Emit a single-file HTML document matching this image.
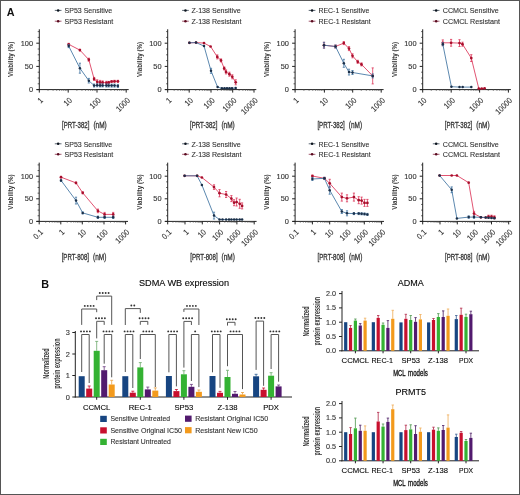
<!DOCTYPE html>
<html><head><meta charset="utf-8"><style>
html,body{margin:0;padding:0;background:#fff;}
svg{display:block;will-change:transform;}
text{font-family:"Liberation Sans", sans-serif;}
</style></head><body>
<svg width="520" height="495" viewBox="0 0 520 495">
<rect x="0.5" y="0.5" width="519" height="494" fill="#fff" stroke="#555" stroke-width="1"/>
<text x="6.7" y="15.8" font-size="10.8" font-weight="bold" fill="#111">A</text>
<text x="41.2" y="287.8" font-size="10.8" font-weight="bold" fill="#111">B</text>
<line x1="39.3" y1="29.28" x2="39.3" y2="90.1" stroke="#222" stroke-width="1"/>
<line x1="36.3" y1="89.6" x2="39.3" y2="89.6" stroke="#222" stroke-width="1"/>
<line x1="37.7" y1="83.8" x2="39.3" y2="83.8" stroke="#222" stroke-width="0.7"/>
<line x1="37.7" y1="78" x2="39.3" y2="78" stroke="#222" stroke-width="0.7"/>
<line x1="37.7" y1="72.2" x2="39.3" y2="72.2" stroke="#222" stroke-width="0.7"/>
<line x1="36.3" y1="66.4" x2="39.3" y2="66.4" stroke="#222" stroke-width="1"/>
<line x1="37.7" y1="60.6" x2="39.3" y2="60.6" stroke="#222" stroke-width="0.7"/>
<line x1="37.7" y1="54.8" x2="39.3" y2="54.8" stroke="#222" stroke-width="0.7"/>
<line x1="37.7" y1="49" x2="39.3" y2="49" stroke="#222" stroke-width="0.7"/>
<line x1="36.3" y1="43.2" x2="39.3" y2="43.2" stroke="#222" stroke-width="1"/>
<line x1="37.7" y1="37.4" x2="39.3" y2="37.4" stroke="#222" stroke-width="0.7"/>
<line x1="37.7" y1="31.6" x2="39.3" y2="31.6" stroke="#222" stroke-width="0.7"/>
<text x="33.1" y="92.1" font-size="7.4" stroke="#333" stroke-width="0.12" text-anchor="end" fill="#333">0</text>
<text x="33.1" y="68.9" font-size="7.4" stroke="#333" stroke-width="0.12" text-anchor="end" fill="#333">50</text>
<text x="33.1" y="45.7" font-size="7.4" stroke="#333" stroke-width="0.12" text-anchor="end" fill="#333">100</text>
<line x1="36.8" y1="89.6" x2="128.7" y2="89.6" stroke="#222" stroke-width="1"/>
<line x1="39.3" y1="89.6" x2="39.3" y2="92.6" stroke="#222" stroke-width="1"/>
<text x="43.6" y="100.9" font-size="8.1" stroke="#333" stroke-width="0.12" text-anchor="end" fill="#333" textLength="3.99" lengthAdjust="spacingAndGlyphs" transform="rotate(-45 43.6 100.9)">1</text>
<line x1="48" y1="89.6" x2="48" y2="91" stroke="#555" stroke-width="0.6"/>
<line x1="53.09" y1="89.6" x2="53.09" y2="91" stroke="#555" stroke-width="0.6"/>
<line x1="56.7" y1="89.6" x2="56.7" y2="91" stroke="#555" stroke-width="0.6"/>
<line x1="59.5" y1="89.6" x2="59.5" y2="91" stroke="#555" stroke-width="0.6"/>
<line x1="61.79" y1="89.6" x2="61.79" y2="91" stroke="#555" stroke-width="0.6"/>
<line x1="63.72" y1="89.6" x2="63.72" y2="91" stroke="#555" stroke-width="0.6"/>
<line x1="65.4" y1="89.6" x2="65.4" y2="91" stroke="#555" stroke-width="0.6"/>
<line x1="66.88" y1="89.6" x2="66.88" y2="91" stroke="#555" stroke-width="0.6"/>
<line x1="68.2" y1="89.6" x2="68.2" y2="92.6" stroke="#222" stroke-width="1"/>
<text x="72.5" y="100.9" font-size="8.1" stroke="#333" stroke-width="0.12" text-anchor="end" fill="#333" textLength="7.98" lengthAdjust="spacingAndGlyphs" transform="rotate(-45 72.5 100.9)">10</text>
<line x1="76.87" y1="89.6" x2="76.87" y2="91" stroke="#555" stroke-width="0.6"/>
<line x1="81.94" y1="89.6" x2="81.94" y2="91" stroke="#555" stroke-width="0.6"/>
<line x1="85.54" y1="89.6" x2="85.54" y2="91" stroke="#555" stroke-width="0.6"/>
<line x1="88.33" y1="89.6" x2="88.33" y2="91" stroke="#555" stroke-width="0.6"/>
<line x1="90.61" y1="89.6" x2="90.61" y2="91" stroke="#555" stroke-width="0.6"/>
<line x1="92.54" y1="89.6" x2="92.54" y2="91" stroke="#555" stroke-width="0.6"/>
<line x1="94.21" y1="89.6" x2="94.21" y2="91" stroke="#555" stroke-width="0.6"/>
<line x1="95.68" y1="89.6" x2="95.68" y2="91" stroke="#555" stroke-width="0.6"/>
<line x1="97" y1="89.6" x2="97" y2="92.6" stroke="#222" stroke-width="1"/>
<text x="101.3" y="100.9" font-size="8.1" stroke="#333" stroke-width="0.12" text-anchor="end" fill="#333" textLength="11.97" lengthAdjust="spacingAndGlyphs" transform="rotate(-45 101.3 100.9)">100</text>
<line x1="105.79" y1="89.6" x2="105.79" y2="91" stroke="#555" stroke-width="0.6"/>
<line x1="110.93" y1="89.6" x2="110.93" y2="91" stroke="#555" stroke-width="0.6"/>
<line x1="114.58" y1="89.6" x2="114.58" y2="91" stroke="#555" stroke-width="0.6"/>
<line x1="117.41" y1="89.6" x2="117.41" y2="91" stroke="#555" stroke-width="0.6"/>
<line x1="119.72" y1="89.6" x2="119.72" y2="91" stroke="#555" stroke-width="0.6"/>
<line x1="121.68" y1="89.6" x2="121.68" y2="91" stroke="#555" stroke-width="0.6"/>
<line x1="123.37" y1="89.6" x2="123.37" y2="91" stroke="#555" stroke-width="0.6"/>
<line x1="124.86" y1="89.6" x2="124.86" y2="91" stroke="#555" stroke-width="0.6"/>
<line x1="126.2" y1="89.6" x2="126.2" y2="92.6" stroke="#222" stroke-width="1"/>
<text x="130.5" y="100.9" font-size="8.1" stroke="#333" stroke-width="0.12" text-anchor="end" fill="#333" textLength="15.96" lengthAdjust="spacingAndGlyphs" transform="rotate(-45 130.5 100.9)">1000</text>
<text x="13.4" y="59.44" font-size="7.9" text-anchor="middle" font-weight="bold" fill="#333" textLength="35.3" lengthAdjust="spacingAndGlyphs" transform="rotate(-90 13.4 59.44)">Viability (%)</text>
<text x="62.05" y="128.3" font-size="9" stroke="#333" stroke-width="0.3" fill="#333" textLength="27.4" lengthAdjust="spacingAndGlyphs">[PRT-382]</text>
<text x="93.45" y="128.3" font-size="9" stroke="#333" stroke-width="0.3" fill="#333" textLength="13.3" lengthAdjust="spacingAndGlyphs">(nM)</text>
<line x1="54.8" y1="10.4" x2="61.5" y2="10.4" stroke="#18283a" stroke-width="0.7"/>
<circle cx="58.15" cy="10.4" r="1.25" fill="#0c141e"/>
<text x="64.5" y="13.15" font-size="8.1" stroke="#333" stroke-width="0.12" fill="#333" textLength="47.7" lengthAdjust="spacingAndGlyphs">SP53 Sensitive</text>
<line x1="54.8" y1="21.2" x2="61.5" y2="21.2" stroke="#7a1230" stroke-width="0.7"/>
<circle cx="58.15" cy="21.2" r="1.25" fill="#5a0a1e"/>
<text x="64.5" y="23.95" font-size="8.1" stroke="#333" stroke-width="0.12" fill="#333" textLength="48.8" lengthAdjust="spacingAndGlyphs">SP53 Resistant</text>
<polyline points="68.7,44.3 79.9,50.1 88.8,59.7 94.1,78.9 97.2,81.8 100.1,82.4 102.6,82.4 106.4,82.8 108.7,82.4 111.6,81.5 114.5,81.3 117.9,81.3" fill="none" stroke="#dc3558" stroke-width="0.85"/>
<line x1="68.7" y1="43.3" x2="68.7" y2="45.3" stroke="#dc3558" stroke-width="0.8"/>
<line x1="67.6" y1="43.3" x2="69.8" y2="43.3" stroke="#dc3558" stroke-width="0.8"/>
<line x1="67.6" y1="45.3" x2="69.8" y2="45.3" stroke="#dc3558" stroke-width="0.8"/>
<circle cx="68.7" cy="44.3" r="1.35" fill="#a80f2c"/>
<line x1="79.9" y1="49.3" x2="79.9" y2="50.9" stroke="#dc3558" stroke-width="0.8"/>
<line x1="78.8" y1="49.3" x2="81" y2="49.3" stroke="#dc3558" stroke-width="0.8"/>
<line x1="78.8" y1="50.9" x2="81" y2="50.9" stroke="#dc3558" stroke-width="0.8"/>
<circle cx="79.9" cy="50.1" r="1.35" fill="#a80f2c"/>
<line x1="88.8" y1="58.2" x2="88.8" y2="61.2" stroke="#dc3558" stroke-width="0.8"/>
<line x1="87.7" y1="58.2" x2="89.9" y2="58.2" stroke="#dc3558" stroke-width="0.8"/>
<line x1="87.7" y1="61.2" x2="89.9" y2="61.2" stroke="#dc3558" stroke-width="0.8"/>
<circle cx="88.8" cy="59.7" r="1.35" fill="#a80f2c"/>
<line x1="94.1" y1="77.4" x2="94.1" y2="80.4" stroke="#dc3558" stroke-width="0.8"/>
<line x1="93" y1="77.4" x2="95.2" y2="77.4" stroke="#dc3558" stroke-width="0.8"/>
<line x1="93" y1="80.4" x2="95.2" y2="80.4" stroke="#dc3558" stroke-width="0.8"/>
<circle cx="94.1" cy="78.9" r="1.35" fill="#a80f2c"/>
<line x1="97.2" y1="79.8" x2="97.2" y2="83.8" stroke="#dc3558" stroke-width="0.8"/>
<line x1="96.1" y1="79.8" x2="98.3" y2="79.8" stroke="#dc3558" stroke-width="0.8"/>
<line x1="96.1" y1="83.8" x2="98.3" y2="83.8" stroke="#dc3558" stroke-width="0.8"/>
<circle cx="97.2" cy="81.8" r="1.35" fill="#a80f2c"/>
<line x1="100.1" y1="80.4" x2="100.1" y2="84.4" stroke="#dc3558" stroke-width="0.8"/>
<line x1="99" y1="80.4" x2="101.2" y2="80.4" stroke="#dc3558" stroke-width="0.8"/>
<line x1="99" y1="84.4" x2="101.2" y2="84.4" stroke="#dc3558" stroke-width="0.8"/>
<circle cx="100.1" cy="82.4" r="1.35" fill="#a80f2c"/>
<line x1="102.6" y1="80.9" x2="102.6" y2="83.9" stroke="#dc3558" stroke-width="0.8"/>
<line x1="101.5" y1="80.9" x2="103.7" y2="80.9" stroke="#dc3558" stroke-width="0.8"/>
<line x1="101.5" y1="83.9" x2="103.7" y2="83.9" stroke="#dc3558" stroke-width="0.8"/>
<circle cx="102.6" cy="82.4" r="1.35" fill="#a80f2c"/>
<line x1="106.4" y1="81.3" x2="106.4" y2="84.3" stroke="#dc3558" stroke-width="0.8"/>
<line x1="105.3" y1="81.3" x2="107.5" y2="81.3" stroke="#dc3558" stroke-width="0.8"/>
<line x1="105.3" y1="84.3" x2="107.5" y2="84.3" stroke="#dc3558" stroke-width="0.8"/>
<circle cx="106.4" cy="82.8" r="1.35" fill="#a80f2c"/>
<line x1="108.7" y1="81.4" x2="108.7" y2="83.4" stroke="#dc3558" stroke-width="0.8"/>
<line x1="107.6" y1="81.4" x2="109.8" y2="81.4" stroke="#dc3558" stroke-width="0.8"/>
<line x1="107.6" y1="83.4" x2="109.8" y2="83.4" stroke="#dc3558" stroke-width="0.8"/>
<circle cx="108.7" cy="82.4" r="1.35" fill="#a80f2c"/>
<line x1="111.6" y1="80.5" x2="111.6" y2="82.5" stroke="#dc3558" stroke-width="0.8"/>
<line x1="110.5" y1="80.5" x2="112.7" y2="80.5" stroke="#dc3558" stroke-width="0.8"/>
<line x1="110.5" y1="82.5" x2="112.7" y2="82.5" stroke="#dc3558" stroke-width="0.8"/>
<circle cx="111.6" cy="81.5" r="1.35" fill="#a80f2c"/>
<line x1="114.5" y1="80.3" x2="114.5" y2="82.3" stroke="#dc3558" stroke-width="0.8"/>
<line x1="113.4" y1="80.3" x2="115.6" y2="80.3" stroke="#dc3558" stroke-width="0.8"/>
<line x1="113.4" y1="82.3" x2="115.6" y2="82.3" stroke="#dc3558" stroke-width="0.8"/>
<circle cx="114.5" cy="81.3" r="1.35" fill="#a80f2c"/>
<line x1="117.9" y1="80.3" x2="117.9" y2="82.3" stroke="#dc3558" stroke-width="0.8"/>
<line x1="116.8" y1="80.3" x2="119" y2="80.3" stroke="#dc3558" stroke-width="0.8"/>
<line x1="116.8" y1="82.3" x2="119" y2="82.3" stroke="#dc3558" stroke-width="0.8"/>
<circle cx="117.9" cy="81.3" r="1.35" fill="#a80f2c"/>
<polyline points="68.7,46.1 79.9,68.2 88.8,80.7 94.1,85.5 97.2,85.3 100.1,85.4 102.6,85.4 106.4,85.5 108.7,85.5 111.6,85.6 114.5,85.6 117.9,85.9" fill="none" stroke="#3f72a0" stroke-width="0.85"/>
<line x1="68.7" y1="44.6" x2="68.7" y2="47.6" stroke="#3f72a0" stroke-width="0.8"/>
<line x1="67.6" y1="44.6" x2="69.8" y2="44.6" stroke="#3f72a0" stroke-width="0.8"/>
<line x1="67.6" y1="47.6" x2="69.8" y2="47.6" stroke="#3f72a0" stroke-width="0.8"/>
<circle cx="68.7" cy="46.1" r="1.25" fill="#1b2f48"/>
<line x1="79.9" y1="63.2" x2="79.9" y2="73.2" stroke="#3f72a0" stroke-width="0.8"/>
<line x1="78.8" y1="63.2" x2="81" y2="63.2" stroke="#3f72a0" stroke-width="0.8"/>
<line x1="78.8" y1="73.2" x2="81" y2="73.2" stroke="#3f72a0" stroke-width="0.8"/>
<circle cx="79.9" cy="68.2" r="1.25" fill="#1b2f48"/>
<line x1="88.8" y1="78.4" x2="88.8" y2="83" stroke="#3f72a0" stroke-width="0.8"/>
<line x1="87.7" y1="78.4" x2="89.9" y2="78.4" stroke="#3f72a0" stroke-width="0.8"/>
<line x1="87.7" y1="83" x2="89.9" y2="83" stroke="#3f72a0" stroke-width="0.8"/>
<circle cx="88.8" cy="80.7" r="1.25" fill="#1b2f48"/>
<line x1="94.1" y1="84" x2="94.1" y2="87" stroke="#3f72a0" stroke-width="0.8"/>
<line x1="93" y1="84" x2="95.2" y2="84" stroke="#3f72a0" stroke-width="0.8"/>
<line x1="93" y1="87" x2="95.2" y2="87" stroke="#3f72a0" stroke-width="0.8"/>
<circle cx="94.1" cy="85.5" r="1.25" fill="#1b2f48"/>
<line x1="97.2" y1="83.8" x2="97.2" y2="86.8" stroke="#3f72a0" stroke-width="0.8"/>
<line x1="96.1" y1="83.8" x2="98.3" y2="83.8" stroke="#3f72a0" stroke-width="0.8"/>
<line x1="96.1" y1="86.8" x2="98.3" y2="86.8" stroke="#3f72a0" stroke-width="0.8"/>
<circle cx="97.2" cy="85.3" r="1.25" fill="#1b2f48"/>
<line x1="100.1" y1="83.9" x2="100.1" y2="86.9" stroke="#3f72a0" stroke-width="0.8"/>
<line x1="99" y1="83.9" x2="101.2" y2="83.9" stroke="#3f72a0" stroke-width="0.8"/>
<line x1="99" y1="86.9" x2="101.2" y2="86.9" stroke="#3f72a0" stroke-width="0.8"/>
<circle cx="100.1" cy="85.4" r="1.25" fill="#1b2f48"/>
<line x1="102.6" y1="83.9" x2="102.6" y2="86.9" stroke="#3f72a0" stroke-width="0.8"/>
<line x1="101.5" y1="83.9" x2="103.7" y2="83.9" stroke="#3f72a0" stroke-width="0.8"/>
<line x1="101.5" y1="86.9" x2="103.7" y2="86.9" stroke="#3f72a0" stroke-width="0.8"/>
<circle cx="102.6" cy="85.4" r="1.25" fill="#1b2f48"/>
<line x1="106.4" y1="84" x2="106.4" y2="87" stroke="#3f72a0" stroke-width="0.8"/>
<line x1="105.3" y1="84" x2="107.5" y2="84" stroke="#3f72a0" stroke-width="0.8"/>
<line x1="105.3" y1="87" x2="107.5" y2="87" stroke="#3f72a0" stroke-width="0.8"/>
<circle cx="106.4" cy="85.5" r="1.25" fill="#1b2f48"/>
<line x1="108.7" y1="84" x2="108.7" y2="87" stroke="#3f72a0" stroke-width="0.8"/>
<line x1="107.6" y1="84" x2="109.8" y2="84" stroke="#3f72a0" stroke-width="0.8"/>
<line x1="107.6" y1="87" x2="109.8" y2="87" stroke="#3f72a0" stroke-width="0.8"/>
<circle cx="108.7" cy="85.5" r="1.25" fill="#1b2f48"/>
<line x1="111.6" y1="84.1" x2="111.6" y2="87.1" stroke="#3f72a0" stroke-width="0.8"/>
<line x1="110.5" y1="84.1" x2="112.7" y2="84.1" stroke="#3f72a0" stroke-width="0.8"/>
<line x1="110.5" y1="87.1" x2="112.7" y2="87.1" stroke="#3f72a0" stroke-width="0.8"/>
<circle cx="111.6" cy="85.6" r="1.25" fill="#1b2f48"/>
<line x1="114.5" y1="84.1" x2="114.5" y2="87.1" stroke="#3f72a0" stroke-width="0.8"/>
<line x1="113.4" y1="84.1" x2="115.6" y2="84.1" stroke="#3f72a0" stroke-width="0.8"/>
<line x1="113.4" y1="87.1" x2="115.6" y2="87.1" stroke="#3f72a0" stroke-width="0.8"/>
<circle cx="114.5" cy="85.6" r="1.25" fill="#1b2f48"/>
<line x1="117.9" y1="84.4" x2="117.9" y2="87.4" stroke="#3f72a0" stroke-width="0.8"/>
<line x1="116.8" y1="84.4" x2="119" y2="84.4" stroke="#3f72a0" stroke-width="0.8"/>
<line x1="116.8" y1="87.4" x2="119" y2="87.4" stroke="#3f72a0" stroke-width="0.8"/>
<circle cx="117.9" cy="85.9" r="1.25" fill="#1b2f48"/>
<line x1="167.7" y1="29.28" x2="167.7" y2="90.1" stroke="#222" stroke-width="1"/>
<line x1="164.7" y1="89.6" x2="167.7" y2="89.6" stroke="#222" stroke-width="1"/>
<line x1="166.1" y1="83.8" x2="167.7" y2="83.8" stroke="#222" stroke-width="0.7"/>
<line x1="166.1" y1="78" x2="167.7" y2="78" stroke="#222" stroke-width="0.7"/>
<line x1="166.1" y1="72.2" x2="167.7" y2="72.2" stroke="#222" stroke-width="0.7"/>
<line x1="164.7" y1="66.4" x2="167.7" y2="66.4" stroke="#222" stroke-width="1"/>
<line x1="166.1" y1="60.6" x2="167.7" y2="60.6" stroke="#222" stroke-width="0.7"/>
<line x1="166.1" y1="54.8" x2="167.7" y2="54.8" stroke="#222" stroke-width="0.7"/>
<line x1="166.1" y1="49" x2="167.7" y2="49" stroke="#222" stroke-width="0.7"/>
<line x1="164.7" y1="43.2" x2="167.7" y2="43.2" stroke="#222" stroke-width="1"/>
<line x1="166.1" y1="37.4" x2="167.7" y2="37.4" stroke="#222" stroke-width="0.7"/>
<line x1="166.1" y1="31.6" x2="167.7" y2="31.6" stroke="#222" stroke-width="0.7"/>
<text x="161.5" y="92.1" font-size="7.4" stroke="#333" stroke-width="0.12" text-anchor="end" fill="#333">0</text>
<text x="161.5" y="68.9" font-size="7.4" stroke="#333" stroke-width="0.12" text-anchor="end" fill="#333">50</text>
<text x="161.5" y="45.7" font-size="7.4" stroke="#333" stroke-width="0.12" text-anchor="end" fill="#333">100</text>
<line x1="165.2" y1="89.6" x2="256.3" y2="89.6" stroke="#222" stroke-width="1"/>
<line x1="167.7" y1="89.6" x2="167.7" y2="92.6" stroke="#222" stroke-width="1"/>
<text x="172" y="100.9" font-size="8.1" stroke="#333" stroke-width="0.12" text-anchor="end" fill="#333" textLength="3.99" lengthAdjust="spacingAndGlyphs" transform="rotate(-45 172 100.9)">1</text>
<line x1="174.17" y1="89.6" x2="174.17" y2="91" stroke="#555" stroke-width="0.6"/>
<line x1="177.96" y1="89.6" x2="177.96" y2="91" stroke="#555" stroke-width="0.6"/>
<line x1="180.64" y1="89.6" x2="180.64" y2="91" stroke="#555" stroke-width="0.6"/>
<line x1="182.73" y1="89.6" x2="182.73" y2="91" stroke="#555" stroke-width="0.6"/>
<line x1="184.43" y1="89.6" x2="184.43" y2="91" stroke="#555" stroke-width="0.6"/>
<line x1="185.87" y1="89.6" x2="185.87" y2="91" stroke="#555" stroke-width="0.6"/>
<line x1="187.12" y1="89.6" x2="187.12" y2="91" stroke="#555" stroke-width="0.6"/>
<line x1="188.22" y1="89.6" x2="188.22" y2="91" stroke="#555" stroke-width="0.6"/>
<line x1="189.2" y1="89.6" x2="189.2" y2="92.6" stroke="#222" stroke-width="1"/>
<text x="193.5" y="100.9" font-size="8.1" stroke="#333" stroke-width="0.12" text-anchor="end" fill="#333" textLength="7.98" lengthAdjust="spacingAndGlyphs" transform="rotate(-45 193.5 100.9)">10</text>
<line x1="195.76" y1="89.6" x2="195.76" y2="91" stroke="#555" stroke-width="0.6"/>
<line x1="199.6" y1="89.6" x2="199.6" y2="91" stroke="#555" stroke-width="0.6"/>
<line x1="202.32" y1="89.6" x2="202.32" y2="91" stroke="#555" stroke-width="0.6"/>
<line x1="204.44" y1="89.6" x2="204.44" y2="91" stroke="#555" stroke-width="0.6"/>
<line x1="206.16" y1="89.6" x2="206.16" y2="91" stroke="#555" stroke-width="0.6"/>
<line x1="207.62" y1="89.6" x2="207.62" y2="91" stroke="#555" stroke-width="0.6"/>
<line x1="208.89" y1="89.6" x2="208.89" y2="91" stroke="#555" stroke-width="0.6"/>
<line x1="210" y1="89.6" x2="210" y2="91" stroke="#555" stroke-width="0.6"/>
<line x1="211" y1="89.6" x2="211" y2="92.6" stroke="#222" stroke-width="1"/>
<text x="215.3" y="100.9" font-size="8.1" stroke="#333" stroke-width="0.12" text-anchor="end" fill="#333" textLength="11.97" lengthAdjust="spacingAndGlyphs" transform="rotate(-45 215.3 100.9)">100</text>
<line x1="217.53" y1="89.6" x2="217.53" y2="91" stroke="#555" stroke-width="0.6"/>
<line x1="221.35" y1="89.6" x2="221.35" y2="91" stroke="#555" stroke-width="0.6"/>
<line x1="224.06" y1="89.6" x2="224.06" y2="91" stroke="#555" stroke-width="0.6"/>
<line x1="226.17" y1="89.6" x2="226.17" y2="91" stroke="#555" stroke-width="0.6"/>
<line x1="227.89" y1="89.6" x2="227.89" y2="91" stroke="#555" stroke-width="0.6"/>
<line x1="229.34" y1="89.6" x2="229.34" y2="91" stroke="#555" stroke-width="0.6"/>
<line x1="230.6" y1="89.6" x2="230.6" y2="91" stroke="#555" stroke-width="0.6"/>
<line x1="231.71" y1="89.6" x2="231.71" y2="91" stroke="#555" stroke-width="0.6"/>
<line x1="232.7" y1="89.6" x2="232.7" y2="92.6" stroke="#222" stroke-width="1"/>
<text x="237" y="100.9" font-size="8.1" stroke="#333" stroke-width="0.12" text-anchor="end" fill="#333" textLength="15.96" lengthAdjust="spacingAndGlyphs" transform="rotate(-45 237 100.9)">1000</text>
<line x1="239.11" y1="89.6" x2="239.11" y2="91" stroke="#555" stroke-width="0.6"/>
<line x1="242.86" y1="89.6" x2="242.86" y2="91" stroke="#555" stroke-width="0.6"/>
<line x1="245.52" y1="89.6" x2="245.52" y2="91" stroke="#555" stroke-width="0.6"/>
<line x1="247.59" y1="89.6" x2="247.59" y2="91" stroke="#555" stroke-width="0.6"/>
<line x1="249.27" y1="89.6" x2="249.27" y2="91" stroke="#555" stroke-width="0.6"/>
<line x1="250.7" y1="89.6" x2="250.7" y2="91" stroke="#555" stroke-width="0.6"/>
<line x1="251.94" y1="89.6" x2="251.94" y2="91" stroke="#555" stroke-width="0.6"/>
<line x1="253.03" y1="89.6" x2="253.03" y2="91" stroke="#555" stroke-width="0.6"/>
<line x1="254" y1="89.6" x2="254" y2="92.6" stroke="#222" stroke-width="1"/>
<text x="258.3" y="100.9" font-size="8.1" stroke="#333" stroke-width="0.12" text-anchor="end" fill="#333" textLength="19.95" lengthAdjust="spacingAndGlyphs" transform="rotate(-45 258.3 100.9)">10000</text>
<text x="141.8" y="59.44" font-size="7.9" text-anchor="middle" font-weight="bold" fill="#333" textLength="35.3" lengthAdjust="spacingAndGlyphs" transform="rotate(-90 141.8 59.44)">Viability (%)</text>
<text x="190.05" y="128.3" font-size="9" stroke="#333" stroke-width="0.3" fill="#333" textLength="27.4" lengthAdjust="spacingAndGlyphs">[PRT-382]</text>
<text x="221.45" y="128.3" font-size="9" stroke="#333" stroke-width="0.3" fill="#333" textLength="13.3" lengthAdjust="spacingAndGlyphs">(nM)</text>
<line x1="182.1" y1="10.4" x2="188.8" y2="10.4" stroke="#18283a" stroke-width="0.7"/>
<circle cx="185.45" cy="10.4" r="1.25" fill="#0c141e"/>
<text x="191.5" y="13.15" font-size="8.1" stroke="#333" stroke-width="0.12" fill="#333" textLength="49.1" lengthAdjust="spacingAndGlyphs">Z-138 Sensitive</text>
<line x1="182.1" y1="21.2" x2="188.8" y2="21.2" stroke="#7a1230" stroke-width="0.7"/>
<circle cx="185.45" cy="21.2" r="1.25" fill="#5a0a1e"/>
<text x="191.5" y="23.95" font-size="8.1" stroke="#333" stroke-width="0.12" fill="#333" textLength="50" lengthAdjust="spacingAndGlyphs">Z-138 Resistant</text>
<polyline points="189.4,42.8 196,42.6 204,43.1 210.6,46.5 217.3,56.9 221,60.4 224.2,68.4 226,71.9 229.4,74.2 232.3,76.8 235.7,82.3" fill="none" stroke="#dc3558" stroke-width="0.85"/>
<circle cx="189.4" cy="42.8" r="1.35" fill="#a80f2c"/>
<circle cx="196" cy="42.6" r="1.35" fill="#a80f2c"/>
<circle cx="204" cy="43.1" r="1.35" fill="#a80f2c"/>
<circle cx="210.6" cy="46.5" r="1.35" fill="#a80f2c"/>
<line x1="217.3" y1="54.9" x2="217.3" y2="58.9" stroke="#dc3558" stroke-width="0.8"/>
<line x1="216.2" y1="54.9" x2="218.4" y2="54.9" stroke="#dc3558" stroke-width="0.8"/>
<line x1="216.2" y1="58.9" x2="218.4" y2="58.9" stroke="#dc3558" stroke-width="0.8"/>
<circle cx="217.3" cy="56.9" r="1.35" fill="#a80f2c"/>
<line x1="221" y1="58.9" x2="221" y2="61.9" stroke="#dc3558" stroke-width="0.8"/>
<line x1="219.9" y1="58.9" x2="222.1" y2="58.9" stroke="#dc3558" stroke-width="0.8"/>
<line x1="219.9" y1="61.9" x2="222.1" y2="61.9" stroke="#dc3558" stroke-width="0.8"/>
<circle cx="221" cy="60.4" r="1.35" fill="#a80f2c"/>
<line x1="224.2" y1="66.9" x2="224.2" y2="69.9" stroke="#dc3558" stroke-width="0.8"/>
<line x1="223.1" y1="66.9" x2="225.3" y2="66.9" stroke="#dc3558" stroke-width="0.8"/>
<line x1="223.1" y1="69.9" x2="225.3" y2="69.9" stroke="#dc3558" stroke-width="0.8"/>
<circle cx="224.2" cy="68.4" r="1.35" fill="#a80f2c"/>
<line x1="226" y1="69.9" x2="226" y2="73.9" stroke="#dc3558" stroke-width="0.8"/>
<line x1="224.9" y1="69.9" x2="227.1" y2="69.9" stroke="#dc3558" stroke-width="0.8"/>
<line x1="224.9" y1="73.9" x2="227.1" y2="73.9" stroke="#dc3558" stroke-width="0.8"/>
<circle cx="226" cy="71.9" r="1.35" fill="#a80f2c"/>
<line x1="229.4" y1="72.2" x2="229.4" y2="76.2" stroke="#dc3558" stroke-width="0.8"/>
<line x1="228.3" y1="72.2" x2="230.5" y2="72.2" stroke="#dc3558" stroke-width="0.8"/>
<line x1="228.3" y1="76.2" x2="230.5" y2="76.2" stroke="#dc3558" stroke-width="0.8"/>
<circle cx="229.4" cy="74.2" r="1.35" fill="#a80f2c"/>
<line x1="232.3" y1="74.8" x2="232.3" y2="78.8" stroke="#dc3558" stroke-width="0.8"/>
<line x1="231.2" y1="74.8" x2="233.4" y2="74.8" stroke="#dc3558" stroke-width="0.8"/>
<line x1="231.2" y1="78.8" x2="233.4" y2="78.8" stroke="#dc3558" stroke-width="0.8"/>
<circle cx="232.3" cy="76.8" r="1.35" fill="#a80f2c"/>
<line x1="235.7" y1="79.8" x2="235.7" y2="84.8" stroke="#dc3558" stroke-width="0.8"/>
<line x1="234.6" y1="79.8" x2="236.8" y2="79.8" stroke="#dc3558" stroke-width="0.8"/>
<line x1="234.6" y1="84.8" x2="236.8" y2="84.8" stroke="#dc3558" stroke-width="0.8"/>
<circle cx="235.7" cy="82.3" r="1.35" fill="#a80f2c"/>
<polyline points="189.4,42.8 196,42.6 204,46 211,70.8 217.6,87.1 221.9,88.3 224.5,88.2 227,88.2 229.5,88.2 232,88.2 235.7,88" fill="none" stroke="#3f72a0" stroke-width="0.85"/>
<circle cx="189.4" cy="42.8" r="1.25" fill="#1b2f48"/>
<circle cx="196" cy="42.6" r="1.25" fill="#1b2f48"/>
<circle cx="204" cy="46" r="1.25" fill="#1b2f48"/>
<line x1="211" y1="68.3" x2="211" y2="73.3" stroke="#3f72a0" stroke-width="0.8"/>
<line x1="209.9" y1="68.3" x2="212.1" y2="68.3" stroke="#3f72a0" stroke-width="0.8"/>
<line x1="209.9" y1="73.3" x2="212.1" y2="73.3" stroke="#3f72a0" stroke-width="0.8"/>
<circle cx="211" cy="70.8" r="1.25" fill="#1b2f48"/>
<circle cx="217.6" cy="87.1" r="1.25" fill="#1b2f48"/>
<circle cx="221.9" cy="88.3" r="1.25" fill="#1b2f48"/>
<circle cx="224.5" cy="88.2" r="1.25" fill="#1b2f48"/>
<circle cx="227" cy="88.2" r="1.25" fill="#1b2f48"/>
<circle cx="229.5" cy="88.2" r="1.25" fill="#1b2f48"/>
<circle cx="232" cy="88.2" r="1.25" fill="#1b2f48"/>
<circle cx="235.7" cy="88" r="1.25" fill="#1b2f48"/>
<line x1="295.1" y1="29.28" x2="295.1" y2="90.1" stroke="#222" stroke-width="1"/>
<line x1="292.1" y1="89.6" x2="295.1" y2="89.6" stroke="#222" stroke-width="1"/>
<line x1="293.5" y1="83.8" x2="295.1" y2="83.8" stroke="#222" stroke-width="0.7"/>
<line x1="293.5" y1="78" x2="295.1" y2="78" stroke="#222" stroke-width="0.7"/>
<line x1="293.5" y1="72.2" x2="295.1" y2="72.2" stroke="#222" stroke-width="0.7"/>
<line x1="292.1" y1="66.4" x2="295.1" y2="66.4" stroke="#222" stroke-width="1"/>
<line x1="293.5" y1="60.6" x2="295.1" y2="60.6" stroke="#222" stroke-width="0.7"/>
<line x1="293.5" y1="54.8" x2="295.1" y2="54.8" stroke="#222" stroke-width="0.7"/>
<line x1="293.5" y1="49" x2="295.1" y2="49" stroke="#222" stroke-width="0.7"/>
<line x1="292.1" y1="43.2" x2="295.1" y2="43.2" stroke="#222" stroke-width="1"/>
<line x1="293.5" y1="37.4" x2="295.1" y2="37.4" stroke="#222" stroke-width="0.7"/>
<line x1="293.5" y1="31.6" x2="295.1" y2="31.6" stroke="#222" stroke-width="0.7"/>
<text x="288.9" y="92.1" font-size="7.4" stroke="#333" stroke-width="0.12" text-anchor="end" fill="#333">0</text>
<text x="288.9" y="68.9" font-size="7.4" stroke="#333" stroke-width="0.12" text-anchor="end" fill="#333">50</text>
<text x="288.9" y="45.7" font-size="7.4" stroke="#333" stroke-width="0.12" text-anchor="end" fill="#333">100</text>
<line x1="292.6" y1="89.6" x2="383.6" y2="89.6" stroke="#222" stroke-width="1"/>
<line x1="295.1" y1="89.6" x2="295.1" y2="92.6" stroke="#222" stroke-width="1"/>
<text x="299.4" y="100.9" font-size="8.1" stroke="#333" stroke-width="0.12" text-anchor="end" fill="#333" textLength="3.99" lengthAdjust="spacingAndGlyphs" transform="rotate(-45 299.4 100.9)">1</text>
<line x1="303.92" y1="89.6" x2="303.92" y2="91" stroke="#555" stroke-width="0.6"/>
<line x1="309.08" y1="89.6" x2="309.08" y2="91" stroke="#555" stroke-width="0.6"/>
<line x1="312.74" y1="89.6" x2="312.74" y2="91" stroke="#555" stroke-width="0.6"/>
<line x1="315.58" y1="89.6" x2="315.58" y2="91" stroke="#555" stroke-width="0.6"/>
<line x1="317.9" y1="89.6" x2="317.9" y2="91" stroke="#555" stroke-width="0.6"/>
<line x1="319.86" y1="89.6" x2="319.86" y2="91" stroke="#555" stroke-width="0.6"/>
<line x1="321.56" y1="89.6" x2="321.56" y2="91" stroke="#555" stroke-width="0.6"/>
<line x1="323.06" y1="89.6" x2="323.06" y2="91" stroke="#555" stroke-width="0.6"/>
<line x1="324.4" y1="89.6" x2="324.4" y2="92.6" stroke="#222" stroke-width="1"/>
<text x="328.7" y="100.9" font-size="8.1" stroke="#333" stroke-width="0.12" text-anchor="end" fill="#333" textLength="7.98" lengthAdjust="spacingAndGlyphs" transform="rotate(-45 328.7 100.9)">10</text>
<line x1="332.92" y1="89.6" x2="332.92" y2="91" stroke="#555" stroke-width="0.6"/>
<line x1="337.9" y1="89.6" x2="337.9" y2="91" stroke="#555" stroke-width="0.6"/>
<line x1="341.44" y1="89.6" x2="341.44" y2="91" stroke="#555" stroke-width="0.6"/>
<line x1="344.18" y1="89.6" x2="344.18" y2="91" stroke="#555" stroke-width="0.6"/>
<line x1="346.42" y1="89.6" x2="346.42" y2="91" stroke="#555" stroke-width="0.6"/>
<line x1="348.32" y1="89.6" x2="348.32" y2="91" stroke="#555" stroke-width="0.6"/>
<line x1="349.96" y1="89.6" x2="349.96" y2="91" stroke="#555" stroke-width="0.6"/>
<line x1="351.41" y1="89.6" x2="351.41" y2="91" stroke="#555" stroke-width="0.6"/>
<line x1="352.7" y1="89.6" x2="352.7" y2="92.6" stroke="#222" stroke-width="1"/>
<text x="357" y="100.9" font-size="8.1" stroke="#333" stroke-width="0.12" text-anchor="end" fill="#333" textLength="11.97" lengthAdjust="spacingAndGlyphs" transform="rotate(-45 357 100.9)">100</text>
<line x1="361.28" y1="89.6" x2="361.28" y2="91" stroke="#555" stroke-width="0.6"/>
<line x1="366.3" y1="89.6" x2="366.3" y2="91" stroke="#555" stroke-width="0.6"/>
<line x1="369.86" y1="89.6" x2="369.86" y2="91" stroke="#555" stroke-width="0.6"/>
<line x1="372.62" y1="89.6" x2="372.62" y2="91" stroke="#555" stroke-width="0.6"/>
<line x1="374.88" y1="89.6" x2="374.88" y2="91" stroke="#555" stroke-width="0.6"/>
<line x1="376.79" y1="89.6" x2="376.79" y2="91" stroke="#555" stroke-width="0.6"/>
<line x1="378.44" y1="89.6" x2="378.44" y2="91" stroke="#555" stroke-width="0.6"/>
<line x1="379.9" y1="89.6" x2="379.9" y2="91" stroke="#555" stroke-width="0.6"/>
<line x1="381.2" y1="89.6" x2="381.2" y2="92.6" stroke="#222" stroke-width="1"/>
<text x="385.5" y="100.9" font-size="8.1" stroke="#333" stroke-width="0.12" text-anchor="end" fill="#333" textLength="15.96" lengthAdjust="spacingAndGlyphs" transform="rotate(-45 385.5 100.9)">1000</text>
<text x="269.2" y="59.44" font-size="7.9" text-anchor="middle" font-weight="bold" fill="#333" textLength="35.3" lengthAdjust="spacingAndGlyphs" transform="rotate(-90 269.2 59.44)">Viability (%)</text>
<text x="317.4" y="128.3" font-size="9" stroke="#333" stroke-width="0.3" fill="#333" textLength="27.4" lengthAdjust="spacingAndGlyphs">[PRT-382]</text>
<text x="348.8" y="128.3" font-size="9" stroke="#333" stroke-width="0.3" fill="#333" textLength="13.3" lengthAdjust="spacingAndGlyphs">(nM)</text>
<line x1="308.7" y1="10.4" x2="315.4" y2="10.4" stroke="#18283a" stroke-width="0.7"/>
<circle cx="312.05" cy="10.4" r="1.25" fill="#0c141e"/>
<text x="318.5" y="13.15" font-size="8.1" stroke="#333" stroke-width="0.12" fill="#333" textLength="50.8" lengthAdjust="spacingAndGlyphs">REC-1 Sensitive</text>
<line x1="308.7" y1="21.2" x2="315.4" y2="21.2" stroke="#7a1230" stroke-width="0.7"/>
<circle cx="312.05" cy="21.2" r="1.25" fill="#5a0a1e"/>
<text x="318.5" y="23.95" font-size="8.1" stroke="#333" stroke-width="0.12" fill="#333" textLength="52.2" lengthAdjust="spacingAndGlyphs">REC-1 Resistant</text>
<polyline points="324,45.2 335.5,46.5 343.8,43.1 349,48.6 352.5,55.8 357.7,61.8 361.5,64.4 372.7,75.9" fill="none" stroke="#dc3558" stroke-width="0.85"/>
<line x1="324" y1="42.3" x2="324" y2="48.1" stroke="#dc3558" stroke-width="0.8"/>
<line x1="322.9" y1="42.3" x2="325.1" y2="42.3" stroke="#dc3558" stroke-width="0.8"/>
<line x1="322.9" y1="48.1" x2="325.1" y2="48.1" stroke="#dc3558" stroke-width="0.8"/>
<circle cx="324" cy="45.2" r="1.35" fill="#a80f2c"/>
<line x1="335.5" y1="45" x2="335.5" y2="48" stroke="#dc3558" stroke-width="0.8"/>
<line x1="334.4" y1="45" x2="336.6" y2="45" stroke="#dc3558" stroke-width="0.8"/>
<line x1="334.4" y1="48" x2="336.6" y2="48" stroke="#dc3558" stroke-width="0.8"/>
<circle cx="335.5" cy="46.5" r="1.35" fill="#a80f2c"/>
<line x1="343.8" y1="41.6" x2="343.8" y2="44.6" stroke="#dc3558" stroke-width="0.8"/>
<line x1="342.7" y1="41.6" x2="344.9" y2="41.6" stroke="#dc3558" stroke-width="0.8"/>
<line x1="342.7" y1="44.6" x2="344.9" y2="44.6" stroke="#dc3558" stroke-width="0.8"/>
<circle cx="343.8" cy="43.1" r="1.35" fill="#a80f2c"/>
<line x1="349" y1="46.6" x2="349" y2="50.6" stroke="#dc3558" stroke-width="0.8"/>
<line x1="347.9" y1="46.6" x2="350.1" y2="46.6" stroke="#dc3558" stroke-width="0.8"/>
<line x1="347.9" y1="50.6" x2="350.1" y2="50.6" stroke="#dc3558" stroke-width="0.8"/>
<circle cx="349" cy="48.6" r="1.35" fill="#a80f2c"/>
<line x1="352.5" y1="53.8" x2="352.5" y2="57.8" stroke="#dc3558" stroke-width="0.8"/>
<line x1="351.4" y1="53.8" x2="353.6" y2="53.8" stroke="#dc3558" stroke-width="0.8"/>
<line x1="351.4" y1="57.8" x2="353.6" y2="57.8" stroke="#dc3558" stroke-width="0.8"/>
<circle cx="352.5" cy="55.8" r="1.35" fill="#a80f2c"/>
<line x1="357.7" y1="60.3" x2="357.7" y2="63.3" stroke="#dc3558" stroke-width="0.8"/>
<line x1="356.6" y1="60.3" x2="358.8" y2="60.3" stroke="#dc3558" stroke-width="0.8"/>
<line x1="356.6" y1="63.3" x2="358.8" y2="63.3" stroke="#dc3558" stroke-width="0.8"/>
<circle cx="357.7" cy="61.8" r="1.35" fill="#a80f2c"/>
<line x1="361.5" y1="62.9" x2="361.5" y2="65.9" stroke="#dc3558" stroke-width="0.8"/>
<line x1="360.4" y1="62.9" x2="362.6" y2="62.9" stroke="#dc3558" stroke-width="0.8"/>
<line x1="360.4" y1="65.9" x2="362.6" y2="65.9" stroke="#dc3558" stroke-width="0.8"/>
<circle cx="361.5" cy="64.4" r="1.35" fill="#a80f2c"/>
<line x1="372.7" y1="67.9" x2="372.7" y2="83.9" stroke="#dc3558" stroke-width="0.8"/>
<line x1="371.6" y1="67.9" x2="373.8" y2="67.9" stroke="#dc3558" stroke-width="0.8"/>
<line x1="371.6" y1="83.9" x2="373.8" y2="83.9" stroke="#dc3558" stroke-width="0.8"/>
<circle cx="372.7" cy="75.9" r="1.35" fill="#a80f2c"/>
<polyline points="324,45.2 335.5,46.5 343.8,63.3 349,72.1 352.5,72.5 372.7,75.9" fill="none" stroke="#3f72a0" stroke-width="0.85"/>
<line x1="324" y1="42.3" x2="324" y2="48.1" stroke="#3f72a0" stroke-width="0.8"/>
<line x1="322.9" y1="42.3" x2="325.1" y2="42.3" stroke="#3f72a0" stroke-width="0.8"/>
<line x1="322.9" y1="48.1" x2="325.1" y2="48.1" stroke="#3f72a0" stroke-width="0.8"/>
<circle cx="324" cy="45.2" r="1.25" fill="#1b2f48"/>
<line x1="335.5" y1="45" x2="335.5" y2="48" stroke="#3f72a0" stroke-width="0.8"/>
<line x1="334.4" y1="45" x2="336.6" y2="45" stroke="#3f72a0" stroke-width="0.8"/>
<line x1="334.4" y1="48" x2="336.6" y2="48" stroke="#3f72a0" stroke-width="0.8"/>
<circle cx="335.5" cy="46.5" r="1.25" fill="#1b2f48"/>
<line x1="343.8" y1="59.3" x2="343.8" y2="67.3" stroke="#3f72a0" stroke-width="0.8"/>
<line x1="342.7" y1="59.3" x2="344.9" y2="59.3" stroke="#3f72a0" stroke-width="0.8"/>
<line x1="342.7" y1="67.3" x2="344.9" y2="67.3" stroke="#3f72a0" stroke-width="0.8"/>
<circle cx="343.8" cy="63.3" r="1.25" fill="#1b2f48"/>
<line x1="349" y1="69.2" x2="349" y2="75" stroke="#3f72a0" stroke-width="0.8"/>
<line x1="347.9" y1="69.2" x2="350.1" y2="69.2" stroke="#3f72a0" stroke-width="0.8"/>
<line x1="347.9" y1="75" x2="350.1" y2="75" stroke="#3f72a0" stroke-width="0.8"/>
<circle cx="349" cy="72.1" r="1.25" fill="#1b2f48"/>
<line x1="352.5" y1="70.5" x2="352.5" y2="74.5" stroke="#3f72a0" stroke-width="0.8"/>
<line x1="351.4" y1="70.5" x2="353.6" y2="70.5" stroke="#3f72a0" stroke-width="0.8"/>
<line x1="351.4" y1="74.5" x2="353.6" y2="74.5" stroke="#3f72a0" stroke-width="0.8"/>
<circle cx="352.5" cy="72.5" r="1.25" fill="#1b2f48"/>
<line x1="372.7" y1="73.9" x2="372.7" y2="77.9" stroke="#3f72a0" stroke-width="0.8"/>
<line x1="371.6" y1="73.9" x2="373.8" y2="73.9" stroke="#3f72a0" stroke-width="0.8"/>
<line x1="371.6" y1="77.9" x2="373.8" y2="77.9" stroke="#3f72a0" stroke-width="0.8"/>
<circle cx="372.7" cy="75.9" r="1.25" fill="#1b2f48"/>
<line x1="422.7" y1="29.28" x2="422.7" y2="90.1" stroke="#222" stroke-width="1"/>
<line x1="419.7" y1="89.6" x2="422.7" y2="89.6" stroke="#222" stroke-width="1"/>
<line x1="421.1" y1="83.8" x2="422.7" y2="83.8" stroke="#222" stroke-width="0.7"/>
<line x1="421.1" y1="78" x2="422.7" y2="78" stroke="#222" stroke-width="0.7"/>
<line x1="421.1" y1="72.2" x2="422.7" y2="72.2" stroke="#222" stroke-width="0.7"/>
<line x1="419.7" y1="66.4" x2="422.7" y2="66.4" stroke="#222" stroke-width="1"/>
<line x1="421.1" y1="60.6" x2="422.7" y2="60.6" stroke="#222" stroke-width="0.7"/>
<line x1="421.1" y1="54.8" x2="422.7" y2="54.8" stroke="#222" stroke-width="0.7"/>
<line x1="421.1" y1="49" x2="422.7" y2="49" stroke="#222" stroke-width="0.7"/>
<line x1="419.7" y1="43.2" x2="422.7" y2="43.2" stroke="#222" stroke-width="1"/>
<line x1="421.1" y1="37.4" x2="422.7" y2="37.4" stroke="#222" stroke-width="0.7"/>
<line x1="421.1" y1="31.6" x2="422.7" y2="31.6" stroke="#222" stroke-width="0.7"/>
<text x="416.5" y="92.1" font-size="7.4" stroke="#333" stroke-width="0.12" text-anchor="end" fill="#333">0</text>
<text x="416.5" y="68.9" font-size="7.4" stroke="#333" stroke-width="0.12" text-anchor="end" fill="#333">50</text>
<text x="416.5" y="45.7" font-size="7.4" stroke="#333" stroke-width="0.12" text-anchor="end" fill="#333">100</text>
<line x1="420.2" y1="89.6" x2="510.9" y2="89.6" stroke="#222" stroke-width="1"/>
<line x1="422.7" y1="89.6" x2="422.7" y2="92.6" stroke="#222" stroke-width="1"/>
<text x="427" y="100.9" font-size="8.1" stroke="#333" stroke-width="0.12" text-anchor="end" fill="#333" textLength="7.98" lengthAdjust="spacingAndGlyphs" transform="rotate(-45 427 100.9)">10</text>
<line x1="431.28" y1="89.6" x2="431.28" y2="91" stroke="#555" stroke-width="0.6"/>
<line x1="436.3" y1="89.6" x2="436.3" y2="91" stroke="#555" stroke-width="0.6"/>
<line x1="439.86" y1="89.6" x2="439.86" y2="91" stroke="#555" stroke-width="0.6"/>
<line x1="442.62" y1="89.6" x2="442.62" y2="91" stroke="#555" stroke-width="0.6"/>
<line x1="444.88" y1="89.6" x2="444.88" y2="91" stroke="#555" stroke-width="0.6"/>
<line x1="446.79" y1="89.6" x2="446.79" y2="91" stroke="#555" stroke-width="0.6"/>
<line x1="448.44" y1="89.6" x2="448.44" y2="91" stroke="#555" stroke-width="0.6"/>
<line x1="449.9" y1="89.6" x2="449.9" y2="91" stroke="#555" stroke-width="0.6"/>
<line x1="451.2" y1="89.6" x2="451.2" y2="92.6" stroke="#222" stroke-width="1"/>
<text x="455.5" y="100.9" font-size="8.1" stroke="#333" stroke-width="0.12" text-anchor="end" fill="#333" textLength="11.97" lengthAdjust="spacingAndGlyphs" transform="rotate(-45 455.5 100.9)">100</text>
<line x1="459.75" y1="89.6" x2="459.75" y2="91" stroke="#555" stroke-width="0.6"/>
<line x1="464.75" y1="89.6" x2="464.75" y2="91" stroke="#555" stroke-width="0.6"/>
<line x1="468.3" y1="89.6" x2="468.3" y2="91" stroke="#555" stroke-width="0.6"/>
<line x1="471.05" y1="89.6" x2="471.05" y2="91" stroke="#555" stroke-width="0.6"/>
<line x1="473.3" y1="89.6" x2="473.3" y2="91" stroke="#555" stroke-width="0.6"/>
<line x1="475.2" y1="89.6" x2="475.2" y2="91" stroke="#555" stroke-width="0.6"/>
<line x1="476.85" y1="89.6" x2="476.85" y2="91" stroke="#555" stroke-width="0.6"/>
<line x1="478.3" y1="89.6" x2="478.3" y2="91" stroke="#555" stroke-width="0.6"/>
<line x1="479.6" y1="89.6" x2="479.6" y2="92.6" stroke="#222" stroke-width="1"/>
<text x="483.9" y="100.9" font-size="8.1" stroke="#333" stroke-width="0.12" text-anchor="end" fill="#333" textLength="15.96" lengthAdjust="spacingAndGlyphs" transform="rotate(-45 483.9 100.9)">1000</text>
<line x1="488.27" y1="89.6" x2="488.27" y2="91" stroke="#555" stroke-width="0.6"/>
<line x1="493.34" y1="89.6" x2="493.34" y2="91" stroke="#555" stroke-width="0.6"/>
<line x1="496.94" y1="89.6" x2="496.94" y2="91" stroke="#555" stroke-width="0.6"/>
<line x1="499.73" y1="89.6" x2="499.73" y2="91" stroke="#555" stroke-width="0.6"/>
<line x1="502.01" y1="89.6" x2="502.01" y2="91" stroke="#555" stroke-width="0.6"/>
<line x1="503.94" y1="89.6" x2="503.94" y2="91" stroke="#555" stroke-width="0.6"/>
<line x1="505.61" y1="89.6" x2="505.61" y2="91" stroke="#555" stroke-width="0.6"/>
<line x1="507.08" y1="89.6" x2="507.08" y2="91" stroke="#555" stroke-width="0.6"/>
<line x1="508.4" y1="89.6" x2="508.4" y2="92.6" stroke="#222" stroke-width="1"/>
<text x="512.7" y="100.9" font-size="8.1" stroke="#333" stroke-width="0.12" text-anchor="end" fill="#333" textLength="19.95" lengthAdjust="spacingAndGlyphs" transform="rotate(-45 512.7 100.9)">10000</text>
<text x="396.8" y="59.44" font-size="7.9" text-anchor="middle" font-weight="bold" fill="#333" textLength="35.3" lengthAdjust="spacingAndGlyphs" transform="rotate(-90 396.8 59.44)">Viability (%)</text>
<text x="444.85" y="128.3" font-size="9" stroke="#333" stroke-width="0.3" fill="#333" textLength="27.4" lengthAdjust="spacingAndGlyphs">[PRT-382]</text>
<text x="476.25" y="128.3" font-size="9" stroke="#333" stroke-width="0.3" fill="#333" textLength="13.3" lengthAdjust="spacingAndGlyphs">(nM)</text>
<line x1="432.8" y1="10.4" x2="439.5" y2="10.4" stroke="#18283a" stroke-width="0.7"/>
<circle cx="436.15" cy="10.4" r="1.25" fill="#0c141e"/>
<text x="442.8" y="13.15" font-size="8.1" stroke="#333" stroke-width="0.12" fill="#333" textLength="56" lengthAdjust="spacingAndGlyphs">CCMCL Sensitive</text>
<line x1="432.8" y1="21.2" x2="439.5" y2="21.2" stroke="#7a1230" stroke-width="0.7"/>
<circle cx="436.15" cy="21.2" r="1.25" fill="#5a0a1e"/>
<text x="442.8" y="23.95" font-size="8.1" stroke="#333" stroke-width="0.12" fill="#333" textLength="57.2" lengthAdjust="spacingAndGlyphs">CCMCL Resistant</text>
<polyline points="442.8,42.8 451.1,42.8 459.5,43.1 462.5,44.2 471.3,58.1 478.8,88.6 481.7,88.6 484.6,88.3" fill="none" stroke="#dc3558" stroke-width="0.85"/>
<line x1="442.8" y1="39.9" x2="442.8" y2="45.7" stroke="#dc3558" stroke-width="0.8"/>
<line x1="441.7" y1="39.9" x2="443.9" y2="39.9" stroke="#dc3558" stroke-width="0.8"/>
<line x1="441.7" y1="45.7" x2="443.9" y2="45.7" stroke="#dc3558" stroke-width="0.8"/>
<circle cx="442.8" cy="42.8" r="1.35" fill="#a80f2c"/>
<line x1="451.1" y1="39.4" x2="451.1" y2="46.2" stroke="#dc3558" stroke-width="0.8"/>
<line x1="450" y1="39.4" x2="452.2" y2="39.4" stroke="#dc3558" stroke-width="0.8"/>
<line x1="450" y1="46.2" x2="452.2" y2="46.2" stroke="#dc3558" stroke-width="0.8"/>
<circle cx="451.1" cy="42.8" r="1.35" fill="#a80f2c"/>
<line x1="459.5" y1="39.7" x2="459.5" y2="46.5" stroke="#dc3558" stroke-width="0.8"/>
<line x1="458.4" y1="39.7" x2="460.6" y2="39.7" stroke="#dc3558" stroke-width="0.8"/>
<line x1="458.4" y1="46.5" x2="460.6" y2="46.5" stroke="#dc3558" stroke-width="0.8"/>
<circle cx="459.5" cy="43.1" r="1.35" fill="#a80f2c"/>
<line x1="462.5" y1="42.2" x2="462.5" y2="46.2" stroke="#dc3558" stroke-width="0.8"/>
<line x1="461.4" y1="42.2" x2="463.6" y2="42.2" stroke="#dc3558" stroke-width="0.8"/>
<line x1="461.4" y1="46.2" x2="463.6" y2="46.2" stroke="#dc3558" stroke-width="0.8"/>
<circle cx="462.5" cy="44.2" r="1.35" fill="#a80f2c"/>
<line x1="471.3" y1="54.7" x2="471.3" y2="61.5" stroke="#dc3558" stroke-width="0.8"/>
<line x1="470.2" y1="54.7" x2="472.4" y2="54.7" stroke="#dc3558" stroke-width="0.8"/>
<line x1="470.2" y1="61.5" x2="472.4" y2="61.5" stroke="#dc3558" stroke-width="0.8"/>
<circle cx="471.3" cy="58.1" r="1.35" fill="#a80f2c"/>
<circle cx="478.8" cy="88.6" r="1.35" fill="#a80f2c"/>
<circle cx="481.7" cy="88.6" r="1.35" fill="#a80f2c"/>
<circle cx="484.6" cy="88.3" r="1.35" fill="#a80f2c"/>
<polyline points="442.8,44.2 451.4,86.7 459.5,87.1 462.7,87.1 471.3,87.1" fill="none" stroke="#3f72a0" stroke-width="0.85"/>
<line x1="442.8" y1="42.7" x2="442.8" y2="45.7" stroke="#3f72a0" stroke-width="0.8"/>
<line x1="441.7" y1="42.7" x2="443.9" y2="42.7" stroke="#3f72a0" stroke-width="0.8"/>
<line x1="441.7" y1="45.7" x2="443.9" y2="45.7" stroke="#3f72a0" stroke-width="0.8"/>
<circle cx="442.8" cy="44.2" r="1.25" fill="#1b2f48"/>
<circle cx="451.4" cy="86.7" r="1.25" fill="#1b2f48"/>
<circle cx="459.5" cy="87.1" r="1.25" fill="#1b2f48"/>
<circle cx="462.7" cy="87.1" r="1.25" fill="#1b2f48"/>
<circle cx="471.3" cy="87.1" r="1.25" fill="#1b2f48"/>
<line x1="39.2" y1="162.64" x2="39.2" y2="221.9" stroke="#222" stroke-width="1"/>
<line x1="36.2" y1="221.4" x2="39.2" y2="221.4" stroke="#222" stroke-width="1"/>
<line x1="37.6" y1="215.75" x2="39.2" y2="215.75" stroke="#222" stroke-width="0.7"/>
<line x1="37.6" y1="210.1" x2="39.2" y2="210.1" stroke="#222" stroke-width="0.7"/>
<line x1="37.6" y1="204.45" x2="39.2" y2="204.45" stroke="#222" stroke-width="0.7"/>
<line x1="36.2" y1="198.8" x2="39.2" y2="198.8" stroke="#222" stroke-width="1"/>
<line x1="37.6" y1="193.15" x2="39.2" y2="193.15" stroke="#222" stroke-width="0.7"/>
<line x1="37.6" y1="187.5" x2="39.2" y2="187.5" stroke="#222" stroke-width="0.7"/>
<line x1="37.6" y1="181.85" x2="39.2" y2="181.85" stroke="#222" stroke-width="0.7"/>
<line x1="36.2" y1="176.2" x2="39.2" y2="176.2" stroke="#222" stroke-width="1"/>
<line x1="37.6" y1="170.55" x2="39.2" y2="170.55" stroke="#222" stroke-width="0.7"/>
<line x1="37.6" y1="164.9" x2="39.2" y2="164.9" stroke="#222" stroke-width="0.7"/>
<text x="33" y="223.9" font-size="7.4" stroke="#333" stroke-width="0.12" text-anchor="end" fill="#333">0</text>
<text x="33" y="201.3" font-size="7.4" stroke="#333" stroke-width="0.12" text-anchor="end" fill="#333">50</text>
<text x="33" y="178.7" font-size="7.4" stroke="#333" stroke-width="0.12" text-anchor="end" fill="#333">100</text>
<line x1="36.7" y1="221.4" x2="128" y2="221.4" stroke="#222" stroke-width="1"/>
<line x1="39.2" y1="221.4" x2="39.2" y2="224.4" stroke="#222" stroke-width="1"/>
<text x="43.5" y="232.7" font-size="8.1" stroke="#333" stroke-width="0.12" text-anchor="end" fill="#333" textLength="9.97" lengthAdjust="spacingAndGlyphs" transform="rotate(-45 43.5 232.7)">0.1</text>
<line x1="45.7" y1="221.4" x2="45.7" y2="222.8" stroke="#555" stroke-width="0.6"/>
<line x1="49.51" y1="221.4" x2="49.51" y2="222.8" stroke="#555" stroke-width="0.6"/>
<line x1="52.2" y1="221.4" x2="52.2" y2="222.8" stroke="#555" stroke-width="0.6"/>
<line x1="54.3" y1="221.4" x2="54.3" y2="222.8" stroke="#555" stroke-width="0.6"/>
<line x1="56.01" y1="221.4" x2="56.01" y2="222.8" stroke="#555" stroke-width="0.6"/>
<line x1="57.45" y1="221.4" x2="57.45" y2="222.8" stroke="#555" stroke-width="0.6"/>
<line x1="58.71" y1="221.4" x2="58.71" y2="222.8" stroke="#555" stroke-width="0.6"/>
<line x1="59.81" y1="221.4" x2="59.81" y2="222.8" stroke="#555" stroke-width="0.6"/>
<line x1="60.8" y1="221.4" x2="60.8" y2="224.4" stroke="#222" stroke-width="1"/>
<text x="65.1" y="232.7" font-size="8.1" stroke="#333" stroke-width="0.12" text-anchor="end" fill="#333" textLength="3.99" lengthAdjust="spacingAndGlyphs" transform="rotate(-45 65.1 232.7)">1</text>
<line x1="67.27" y1="221.4" x2="67.27" y2="222.8" stroke="#555" stroke-width="0.6"/>
<line x1="71.06" y1="221.4" x2="71.06" y2="222.8" stroke="#555" stroke-width="0.6"/>
<line x1="73.74" y1="221.4" x2="73.74" y2="222.8" stroke="#555" stroke-width="0.6"/>
<line x1="75.83" y1="221.4" x2="75.83" y2="222.8" stroke="#555" stroke-width="0.6"/>
<line x1="77.53" y1="221.4" x2="77.53" y2="222.8" stroke="#555" stroke-width="0.6"/>
<line x1="78.97" y1="221.4" x2="78.97" y2="222.8" stroke="#555" stroke-width="0.6"/>
<line x1="80.22" y1="221.4" x2="80.22" y2="222.8" stroke="#555" stroke-width="0.6"/>
<line x1="81.32" y1="221.4" x2="81.32" y2="222.8" stroke="#555" stroke-width="0.6"/>
<line x1="82.3" y1="221.4" x2="82.3" y2="224.4" stroke="#222" stroke-width="1"/>
<text x="86.6" y="232.7" font-size="8.1" stroke="#333" stroke-width="0.12" text-anchor="end" fill="#333" textLength="7.98" lengthAdjust="spacingAndGlyphs" transform="rotate(-45 86.6 232.7)">10</text>
<line x1="88.83" y1="221.4" x2="88.83" y2="222.8" stroke="#555" stroke-width="0.6"/>
<line x1="92.65" y1="221.4" x2="92.65" y2="222.8" stroke="#555" stroke-width="0.6"/>
<line x1="95.36" y1="221.4" x2="95.36" y2="222.8" stroke="#555" stroke-width="0.6"/>
<line x1="97.47" y1="221.4" x2="97.47" y2="222.8" stroke="#555" stroke-width="0.6"/>
<line x1="99.19" y1="221.4" x2="99.19" y2="222.8" stroke="#555" stroke-width="0.6"/>
<line x1="100.64" y1="221.4" x2="100.64" y2="222.8" stroke="#555" stroke-width="0.6"/>
<line x1="101.9" y1="221.4" x2="101.9" y2="222.8" stroke="#555" stroke-width="0.6"/>
<line x1="103.01" y1="221.4" x2="103.01" y2="222.8" stroke="#555" stroke-width="0.6"/>
<line x1="104" y1="221.4" x2="104" y2="224.4" stroke="#222" stroke-width="1"/>
<text x="108.3" y="232.7" font-size="8.1" stroke="#333" stroke-width="0.12" text-anchor="end" fill="#333" textLength="11.97" lengthAdjust="spacingAndGlyphs" transform="rotate(-45 108.3 232.7)">100</text>
<line x1="110.5" y1="221.4" x2="110.5" y2="222.8" stroke="#555" stroke-width="0.6"/>
<line x1="114.31" y1="221.4" x2="114.31" y2="222.8" stroke="#555" stroke-width="0.6"/>
<line x1="117" y1="221.4" x2="117" y2="222.8" stroke="#555" stroke-width="0.6"/>
<line x1="119.1" y1="221.4" x2="119.1" y2="222.8" stroke="#555" stroke-width="0.6"/>
<line x1="120.81" y1="221.4" x2="120.81" y2="222.8" stroke="#555" stroke-width="0.6"/>
<line x1="122.25" y1="221.4" x2="122.25" y2="222.8" stroke="#555" stroke-width="0.6"/>
<line x1="123.51" y1="221.4" x2="123.51" y2="222.8" stroke="#555" stroke-width="0.6"/>
<line x1="124.61" y1="221.4" x2="124.61" y2="222.8" stroke="#555" stroke-width="0.6"/>
<line x1="125.6" y1="221.4" x2="125.6" y2="224.4" stroke="#222" stroke-width="1"/>
<text x="129.9" y="232.7" font-size="8.1" stroke="#333" stroke-width="0.12" text-anchor="end" fill="#333" textLength="15.96" lengthAdjust="spacingAndGlyphs" transform="rotate(-45 129.9 232.7)">1000</text>
<text x="13.3" y="192.02" font-size="7.9" text-anchor="middle" font-weight="bold" fill="#333" textLength="35.3" lengthAdjust="spacingAndGlyphs" transform="rotate(-90 13.3 192.02)">Viability (%)</text>
<text x="61.65" y="260" font-size="9" stroke="#333" stroke-width="0.3" fill="#333" textLength="27.4" lengthAdjust="spacingAndGlyphs">[PRT-808]</text>
<text x="93.05" y="260" font-size="9" stroke="#333" stroke-width="0.3" fill="#333" textLength="13.3" lengthAdjust="spacingAndGlyphs">(nM)</text>
<line x1="54.8" y1="143.8" x2="61.5" y2="143.8" stroke="#18283a" stroke-width="0.7"/>
<circle cx="58.15" cy="143.8" r="1.25" fill="#0c141e"/>
<text x="64.5" y="146.55" font-size="8.1" stroke="#333" stroke-width="0.12" fill="#333" textLength="47.7" lengthAdjust="spacingAndGlyphs">SP53 Sensitive</text>
<line x1="54.8" y1="154.3" x2="61.5" y2="154.3" stroke="#7a1230" stroke-width="0.7"/>
<circle cx="58.15" cy="154.3" r="1.25" fill="#5a0a1e"/>
<text x="64.5" y="157.05" font-size="8.1" stroke="#333" stroke-width="0.12" fill="#333" textLength="48.8" lengthAdjust="spacingAndGlyphs">SP53 Resistant</text>
<polyline points="61,177.2 76,182.9 82.7,192.8 97.9,210.9 104.6,214.4 113.2,214.4" fill="none" stroke="#dc3558" stroke-width="0.85"/>
<line x1="61" y1="176.4" x2="61" y2="178" stroke="#dc3558" stroke-width="0.8"/>
<line x1="59.9" y1="176.4" x2="62.1" y2="176.4" stroke="#dc3558" stroke-width="0.8"/>
<line x1="59.9" y1="178" x2="62.1" y2="178" stroke="#dc3558" stroke-width="0.8"/>
<circle cx="61" cy="177.2" r="1.35" fill="#a80f2c"/>
<line x1="76" y1="182.1" x2="76" y2="183.7" stroke="#dc3558" stroke-width="0.8"/>
<line x1="74.9" y1="182.1" x2="77.1" y2="182.1" stroke="#dc3558" stroke-width="0.8"/>
<line x1="74.9" y1="183.7" x2="77.1" y2="183.7" stroke="#dc3558" stroke-width="0.8"/>
<circle cx="76" cy="182.9" r="1.35" fill="#a80f2c"/>
<line x1="82.7" y1="191.8" x2="82.7" y2="193.8" stroke="#dc3558" stroke-width="0.8"/>
<line x1="81.6" y1="191.8" x2="83.8" y2="191.8" stroke="#dc3558" stroke-width="0.8"/>
<line x1="81.6" y1="193.8" x2="83.8" y2="193.8" stroke="#dc3558" stroke-width="0.8"/>
<circle cx="82.7" cy="192.8" r="1.35" fill="#a80f2c"/>
<line x1="97.9" y1="209.1" x2="97.9" y2="212.7" stroke="#dc3558" stroke-width="0.8"/>
<line x1="96.8" y1="209.1" x2="99" y2="209.1" stroke="#dc3558" stroke-width="0.8"/>
<line x1="96.8" y1="212.7" x2="99" y2="212.7" stroke="#dc3558" stroke-width="0.8"/>
<circle cx="97.9" cy="210.9" r="1.35" fill="#a80f2c"/>
<line x1="104.6" y1="212.4" x2="104.6" y2="216.4" stroke="#dc3558" stroke-width="0.8"/>
<line x1="103.5" y1="212.4" x2="105.7" y2="212.4" stroke="#dc3558" stroke-width="0.8"/>
<line x1="103.5" y1="216.4" x2="105.7" y2="216.4" stroke="#dc3558" stroke-width="0.8"/>
<circle cx="104.6" cy="214.4" r="1.35" fill="#a80f2c"/>
<line x1="113.2" y1="212.4" x2="113.2" y2="216.4" stroke="#dc3558" stroke-width="0.8"/>
<line x1="112.1" y1="212.4" x2="114.3" y2="212.4" stroke="#dc3558" stroke-width="0.8"/>
<line x1="112.1" y1="216.4" x2="114.3" y2="216.4" stroke="#dc3558" stroke-width="0.8"/>
<circle cx="113.2" cy="214.4" r="1.35" fill="#a80f2c"/>
<polyline points="61,180.4 76,200.6 82.7,212.9 97.9,217.3 104.6,217.3 113.2,217.3" fill="none" stroke="#3f72a0" stroke-width="0.85"/>
<line x1="61" y1="179.4" x2="61" y2="181.4" stroke="#3f72a0" stroke-width="0.8"/>
<line x1="59.9" y1="179.4" x2="62.1" y2="179.4" stroke="#3f72a0" stroke-width="0.8"/>
<line x1="59.9" y1="181.4" x2="62.1" y2="181.4" stroke="#3f72a0" stroke-width="0.8"/>
<circle cx="61" cy="180.4" r="1.25" fill="#1b2f48"/>
<line x1="76" y1="197.2" x2="76" y2="204" stroke="#3f72a0" stroke-width="0.8"/>
<line x1="74.9" y1="197.2" x2="77.1" y2="197.2" stroke="#3f72a0" stroke-width="0.8"/>
<line x1="74.9" y1="204" x2="77.1" y2="204" stroke="#3f72a0" stroke-width="0.8"/>
<circle cx="76" cy="200.6" r="1.25" fill="#1b2f48"/>
<line x1="82.7" y1="211.9" x2="82.7" y2="213.9" stroke="#3f72a0" stroke-width="0.8"/>
<line x1="81.6" y1="211.9" x2="83.8" y2="211.9" stroke="#3f72a0" stroke-width="0.8"/>
<line x1="81.6" y1="213.9" x2="83.8" y2="213.9" stroke="#3f72a0" stroke-width="0.8"/>
<circle cx="82.7" cy="212.9" r="1.25" fill="#1b2f48"/>
<line x1="97.9" y1="216.1" x2="97.9" y2="218.5" stroke="#3f72a0" stroke-width="0.8"/>
<line x1="96.8" y1="216.1" x2="99" y2="216.1" stroke="#3f72a0" stroke-width="0.8"/>
<line x1="96.8" y1="218.5" x2="99" y2="218.5" stroke="#3f72a0" stroke-width="0.8"/>
<circle cx="97.9" cy="217.3" r="1.25" fill="#1b2f48"/>
<line x1="104.6" y1="216.1" x2="104.6" y2="218.5" stroke="#3f72a0" stroke-width="0.8"/>
<line x1="103.5" y1="216.1" x2="105.7" y2="216.1" stroke="#3f72a0" stroke-width="0.8"/>
<line x1="103.5" y1="218.5" x2="105.7" y2="218.5" stroke="#3f72a0" stroke-width="0.8"/>
<circle cx="104.6" cy="217.3" r="1.25" fill="#1b2f48"/>
<line x1="113.2" y1="216.1" x2="113.2" y2="218.5" stroke="#3f72a0" stroke-width="0.8"/>
<line x1="112.1" y1="216.1" x2="114.3" y2="216.1" stroke="#3f72a0" stroke-width="0.8"/>
<line x1="112.1" y1="218.5" x2="114.3" y2="218.5" stroke="#3f72a0" stroke-width="0.8"/>
<circle cx="113.2" cy="217.3" r="1.25" fill="#1b2f48"/>
<line x1="167.7" y1="162.64" x2="167.7" y2="221.9" stroke="#222" stroke-width="1"/>
<line x1="164.7" y1="221.4" x2="167.7" y2="221.4" stroke="#222" stroke-width="1"/>
<line x1="166.1" y1="215.75" x2="167.7" y2="215.75" stroke="#222" stroke-width="0.7"/>
<line x1="166.1" y1="210.1" x2="167.7" y2="210.1" stroke="#222" stroke-width="0.7"/>
<line x1="166.1" y1="204.45" x2="167.7" y2="204.45" stroke="#222" stroke-width="0.7"/>
<line x1="164.7" y1="198.8" x2="167.7" y2="198.8" stroke="#222" stroke-width="1"/>
<line x1="166.1" y1="193.15" x2="167.7" y2="193.15" stroke="#222" stroke-width="0.7"/>
<line x1="166.1" y1="187.5" x2="167.7" y2="187.5" stroke="#222" stroke-width="0.7"/>
<line x1="166.1" y1="181.85" x2="167.7" y2="181.85" stroke="#222" stroke-width="0.7"/>
<line x1="164.7" y1="176.2" x2="167.7" y2="176.2" stroke="#222" stroke-width="1"/>
<line x1="166.1" y1="170.55" x2="167.7" y2="170.55" stroke="#222" stroke-width="0.7"/>
<line x1="166.1" y1="164.9" x2="167.7" y2="164.9" stroke="#222" stroke-width="0.7"/>
<text x="161.5" y="223.9" font-size="7.4" stroke="#333" stroke-width="0.12" text-anchor="end" fill="#333">0</text>
<text x="161.5" y="201.3" font-size="7.4" stroke="#333" stroke-width="0.12" text-anchor="end" fill="#333">50</text>
<text x="161.5" y="178.7" font-size="7.4" stroke="#333" stroke-width="0.12" text-anchor="end" fill="#333">100</text>
<line x1="165.2" y1="221.4" x2="256.6" y2="221.4" stroke="#222" stroke-width="1"/>
<line x1="167.7" y1="221.4" x2="167.7" y2="224.4" stroke="#222" stroke-width="1"/>
<text x="172" y="232.7" font-size="8.1" stroke="#333" stroke-width="0.12" text-anchor="end" fill="#333" textLength="9.97" lengthAdjust="spacingAndGlyphs" transform="rotate(-45 172 232.7)">0.1</text>
<line x1="172.91" y1="221.4" x2="172.91" y2="222.8" stroke="#555" stroke-width="0.6"/>
<line x1="175.95" y1="221.4" x2="175.95" y2="222.8" stroke="#555" stroke-width="0.6"/>
<line x1="178.12" y1="221.4" x2="178.12" y2="222.8" stroke="#555" stroke-width="0.6"/>
<line x1="179.79" y1="221.4" x2="179.79" y2="222.8" stroke="#555" stroke-width="0.6"/>
<line x1="181.16" y1="221.4" x2="181.16" y2="222.8" stroke="#555" stroke-width="0.6"/>
<line x1="182.32" y1="221.4" x2="182.32" y2="222.8" stroke="#555" stroke-width="0.6"/>
<line x1="183.32" y1="221.4" x2="183.32" y2="222.8" stroke="#555" stroke-width="0.6"/>
<line x1="184.21" y1="221.4" x2="184.21" y2="222.8" stroke="#555" stroke-width="0.6"/>
<line x1="185" y1="221.4" x2="185" y2="224.4" stroke="#222" stroke-width="1"/>
<text x="189.3" y="232.7" font-size="8.1" stroke="#333" stroke-width="0.12" text-anchor="end" fill="#333" textLength="3.99" lengthAdjust="spacingAndGlyphs" transform="rotate(-45 189.3 232.7)">1</text>
<line x1="190.21" y1="221.4" x2="190.21" y2="222.8" stroke="#555" stroke-width="0.6"/>
<line x1="193.25" y1="221.4" x2="193.25" y2="222.8" stroke="#555" stroke-width="0.6"/>
<line x1="195.42" y1="221.4" x2="195.42" y2="222.8" stroke="#555" stroke-width="0.6"/>
<line x1="197.09" y1="221.4" x2="197.09" y2="222.8" stroke="#555" stroke-width="0.6"/>
<line x1="198.46" y1="221.4" x2="198.46" y2="222.8" stroke="#555" stroke-width="0.6"/>
<line x1="199.62" y1="221.4" x2="199.62" y2="222.8" stroke="#555" stroke-width="0.6"/>
<line x1="200.62" y1="221.4" x2="200.62" y2="222.8" stroke="#555" stroke-width="0.6"/>
<line x1="201.51" y1="221.4" x2="201.51" y2="222.8" stroke="#555" stroke-width="0.6"/>
<line x1="202.3" y1="221.4" x2="202.3" y2="224.4" stroke="#222" stroke-width="1"/>
<text x="206.6" y="232.7" font-size="8.1" stroke="#333" stroke-width="0.12" text-anchor="end" fill="#333" textLength="7.98" lengthAdjust="spacingAndGlyphs" transform="rotate(-45 206.6 232.7)">10</text>
<line x1="207.51" y1="221.4" x2="207.51" y2="222.8" stroke="#555" stroke-width="0.6"/>
<line x1="210.55" y1="221.4" x2="210.55" y2="222.8" stroke="#555" stroke-width="0.6"/>
<line x1="212.72" y1="221.4" x2="212.72" y2="222.8" stroke="#555" stroke-width="0.6"/>
<line x1="214.39" y1="221.4" x2="214.39" y2="222.8" stroke="#555" stroke-width="0.6"/>
<line x1="215.76" y1="221.4" x2="215.76" y2="222.8" stroke="#555" stroke-width="0.6"/>
<line x1="216.92" y1="221.4" x2="216.92" y2="222.8" stroke="#555" stroke-width="0.6"/>
<line x1="217.92" y1="221.4" x2="217.92" y2="222.8" stroke="#555" stroke-width="0.6"/>
<line x1="218.81" y1="221.4" x2="218.81" y2="222.8" stroke="#555" stroke-width="0.6"/>
<line x1="219.6" y1="221.4" x2="219.6" y2="224.4" stroke="#222" stroke-width="1"/>
<text x="223.9" y="232.7" font-size="8.1" stroke="#333" stroke-width="0.12" text-anchor="end" fill="#333" textLength="11.97" lengthAdjust="spacingAndGlyphs" transform="rotate(-45 223.9 232.7)">100</text>
<line x1="224.81" y1="221.4" x2="224.81" y2="222.8" stroke="#555" stroke-width="0.6"/>
<line x1="227.85" y1="221.4" x2="227.85" y2="222.8" stroke="#555" stroke-width="0.6"/>
<line x1="230.02" y1="221.4" x2="230.02" y2="222.8" stroke="#555" stroke-width="0.6"/>
<line x1="231.69" y1="221.4" x2="231.69" y2="222.8" stroke="#555" stroke-width="0.6"/>
<line x1="233.06" y1="221.4" x2="233.06" y2="222.8" stroke="#555" stroke-width="0.6"/>
<line x1="234.22" y1="221.4" x2="234.22" y2="222.8" stroke="#555" stroke-width="0.6"/>
<line x1="235.22" y1="221.4" x2="235.22" y2="222.8" stroke="#555" stroke-width="0.6"/>
<line x1="236.11" y1="221.4" x2="236.11" y2="222.8" stroke="#555" stroke-width="0.6"/>
<line x1="236.9" y1="221.4" x2="236.9" y2="224.4" stroke="#222" stroke-width="1"/>
<text x="241.2" y="232.7" font-size="8.1" stroke="#333" stroke-width="0.12" text-anchor="end" fill="#333" textLength="15.96" lengthAdjust="spacingAndGlyphs" transform="rotate(-45 241.2 232.7)">1000</text>
<line x1="242.11" y1="221.4" x2="242.11" y2="222.8" stroke="#555" stroke-width="0.6"/>
<line x1="245.15" y1="221.4" x2="245.15" y2="222.8" stroke="#555" stroke-width="0.6"/>
<line x1="247.32" y1="221.4" x2="247.32" y2="222.8" stroke="#555" stroke-width="0.6"/>
<line x1="248.99" y1="221.4" x2="248.99" y2="222.8" stroke="#555" stroke-width="0.6"/>
<line x1="250.36" y1="221.4" x2="250.36" y2="222.8" stroke="#555" stroke-width="0.6"/>
<line x1="251.52" y1="221.4" x2="251.52" y2="222.8" stroke="#555" stroke-width="0.6"/>
<line x1="252.52" y1="221.4" x2="252.52" y2="222.8" stroke="#555" stroke-width="0.6"/>
<line x1="253.41" y1="221.4" x2="253.41" y2="222.8" stroke="#555" stroke-width="0.6"/>
<line x1="254.2" y1="221.4" x2="254.2" y2="224.4" stroke="#222" stroke-width="1"/>
<text x="258.5" y="232.7" font-size="8.1" stroke="#333" stroke-width="0.12" text-anchor="end" fill="#333" textLength="19.95" lengthAdjust="spacingAndGlyphs" transform="rotate(-45 258.5 232.7)">10000</text>
<text x="141.8" y="192.02" font-size="7.9" text-anchor="middle" font-weight="bold" fill="#333" textLength="35.3" lengthAdjust="spacingAndGlyphs" transform="rotate(-90 141.8 192.02)">Viability (%)</text>
<text x="190.2" y="260" font-size="9" stroke="#333" stroke-width="0.3" fill="#333" textLength="27.4" lengthAdjust="spacingAndGlyphs">[PRT-808]</text>
<text x="221.6" y="260" font-size="9" stroke="#333" stroke-width="0.3" fill="#333" textLength="13.3" lengthAdjust="spacingAndGlyphs">(nM)</text>
<line x1="182.1" y1="143.8" x2="188.8" y2="143.8" stroke="#18283a" stroke-width="0.7"/>
<circle cx="185.45" cy="143.8" r="1.25" fill="#0c141e"/>
<text x="191.5" y="146.55" font-size="8.1" stroke="#333" stroke-width="0.12" fill="#333" textLength="49.1" lengthAdjust="spacingAndGlyphs">Z-138 Sensitive</text>
<line x1="182.1" y1="154.3" x2="188.8" y2="154.3" stroke="#7a1230" stroke-width="0.7"/>
<circle cx="185.45" cy="154.3" r="1.25" fill="#5a0a1e"/>
<text x="191.5" y="157.05" font-size="8.1" stroke="#333" stroke-width="0.12" fill="#333" textLength="50" lengthAdjust="spacingAndGlyphs">Z-138 Resistant</text>
<polyline points="184.6,175.8 197.1,175.8 201.9,177.5 214,187.1 219.5,193.2 226.1,194.5 231.4,198.6 234.1,202.7 236.6,202 239.7,203.8 242.1,205.9" fill="none" stroke="#dc3558" stroke-width="0.85"/>
<circle cx="184.6" cy="175.8" r="1.35" fill="#a80f2c"/>
<circle cx="197.1" cy="175.8" r="1.35" fill="#a80f2c"/>
<circle cx="201.9" cy="177.5" r="1.35" fill="#a80f2c"/>
<line x1="214" y1="184.8" x2="214" y2="189.4" stroke="#dc3558" stroke-width="0.8"/>
<line x1="212.9" y1="184.8" x2="215.1" y2="184.8" stroke="#dc3558" stroke-width="0.8"/>
<line x1="212.9" y1="189.4" x2="215.1" y2="189.4" stroke="#dc3558" stroke-width="0.8"/>
<circle cx="214" cy="187.1" r="1.35" fill="#a80f2c"/>
<line x1="219.5" y1="189.6" x2="219.5" y2="196.8" stroke="#dc3558" stroke-width="0.8"/>
<line x1="218.4" y1="189.6" x2="220.6" y2="189.6" stroke="#dc3558" stroke-width="0.8"/>
<line x1="218.4" y1="196.8" x2="220.6" y2="196.8" stroke="#dc3558" stroke-width="0.8"/>
<circle cx="219.5" cy="193.2" r="1.35" fill="#a80f2c"/>
<line x1="226.1" y1="191.5" x2="226.1" y2="197.5" stroke="#dc3558" stroke-width="0.8"/>
<line x1="225" y1="191.5" x2="227.2" y2="191.5" stroke="#dc3558" stroke-width="0.8"/>
<line x1="225" y1="197.5" x2="227.2" y2="197.5" stroke="#dc3558" stroke-width="0.8"/>
<circle cx="226.1" cy="194.5" r="1.35" fill="#a80f2c"/>
<line x1="231.4" y1="195.6" x2="231.4" y2="201.6" stroke="#dc3558" stroke-width="0.8"/>
<line x1="230.3" y1="195.6" x2="232.5" y2="195.6" stroke="#dc3558" stroke-width="0.8"/>
<line x1="230.3" y1="201.6" x2="232.5" y2="201.6" stroke="#dc3558" stroke-width="0.8"/>
<circle cx="231.4" cy="198.6" r="1.35" fill="#a80f2c"/>
<line x1="234.1" y1="199.7" x2="234.1" y2="205.7" stroke="#dc3558" stroke-width="0.8"/>
<line x1="233" y1="199.7" x2="235.2" y2="199.7" stroke="#dc3558" stroke-width="0.8"/>
<line x1="233" y1="205.7" x2="235.2" y2="205.7" stroke="#dc3558" stroke-width="0.8"/>
<circle cx="234.1" cy="202.7" r="1.35" fill="#a80f2c"/>
<line x1="236.6" y1="198" x2="236.6" y2="206" stroke="#dc3558" stroke-width="0.8"/>
<line x1="235.5" y1="198" x2="237.7" y2="198" stroke="#dc3558" stroke-width="0.8"/>
<line x1="235.5" y1="206" x2="237.7" y2="206" stroke="#dc3558" stroke-width="0.8"/>
<circle cx="236.6" cy="202" r="1.35" fill="#a80f2c"/>
<line x1="239.7" y1="199.3" x2="239.7" y2="208.3" stroke="#dc3558" stroke-width="0.8"/>
<line x1="238.6" y1="199.3" x2="240.8" y2="199.3" stroke="#dc3558" stroke-width="0.8"/>
<line x1="238.6" y1="208.3" x2="240.8" y2="208.3" stroke="#dc3558" stroke-width="0.8"/>
<circle cx="239.7" cy="203.8" r="1.35" fill="#a80f2c"/>
<line x1="242.1" y1="202.9" x2="242.1" y2="208.9" stroke="#dc3558" stroke-width="0.8"/>
<line x1="241" y1="202.9" x2="243.2" y2="202.9" stroke="#dc3558" stroke-width="0.8"/>
<line x1="241" y1="208.9" x2="243.2" y2="208.9" stroke="#dc3558" stroke-width="0.8"/>
<circle cx="242.1" cy="205.9" r="1.35" fill="#a80f2c"/>
<polyline points="184.6,175.8 197.1,175.8 201.9,185 214,215.6 219.5,219.5 222.5,219.5 226.1,219.5 229,219.5 231.4,219.5 234.1,219.5 236.6,219.5 239.7,219.5 242.1,219.5" fill="none" stroke="#3f72a0" stroke-width="0.85"/>
<circle cx="184.6" cy="175.8" r="1.25" fill="#1b2f48"/>
<circle cx="197.1" cy="175.8" r="1.25" fill="#1b2f48"/>
<circle cx="201.9" cy="185" r="1.25" fill="#1b2f48"/>
<line x1="214" y1="212.2" x2="214" y2="219" stroke="#3f72a0" stroke-width="0.8"/>
<line x1="212.9" y1="212.2" x2="215.1" y2="212.2" stroke="#3f72a0" stroke-width="0.8"/>
<line x1="212.9" y1="219" x2="215.1" y2="219" stroke="#3f72a0" stroke-width="0.8"/>
<circle cx="214" cy="215.6" r="1.25" fill="#1b2f48"/>
<circle cx="219.5" cy="219.5" r="1.25" fill="#1b2f48"/>
<circle cx="222.5" cy="219.5" r="1.25" fill="#1b2f48"/>
<circle cx="226.1" cy="219.5" r="1.25" fill="#1b2f48"/>
<circle cx="229" cy="219.5" r="1.25" fill="#1b2f48"/>
<circle cx="231.4" cy="219.5" r="1.25" fill="#1b2f48"/>
<circle cx="234.1" cy="219.5" r="1.25" fill="#1b2f48"/>
<circle cx="236.6" cy="219.5" r="1.25" fill="#1b2f48"/>
<circle cx="239.7" cy="219.5" r="1.25" fill="#1b2f48"/>
<circle cx="242.1" cy="219.5" r="1.25" fill="#1b2f48"/>
<line x1="295.1" y1="162.64" x2="295.1" y2="221.9" stroke="#222" stroke-width="1"/>
<line x1="292.1" y1="221.4" x2="295.1" y2="221.4" stroke="#222" stroke-width="1"/>
<line x1="293.5" y1="215.75" x2="295.1" y2="215.75" stroke="#222" stroke-width="0.7"/>
<line x1="293.5" y1="210.1" x2="295.1" y2="210.1" stroke="#222" stroke-width="0.7"/>
<line x1="293.5" y1="204.45" x2="295.1" y2="204.45" stroke="#222" stroke-width="0.7"/>
<line x1="292.1" y1="198.8" x2="295.1" y2="198.8" stroke="#222" stroke-width="1"/>
<line x1="293.5" y1="193.15" x2="295.1" y2="193.15" stroke="#222" stroke-width="0.7"/>
<line x1="293.5" y1="187.5" x2="295.1" y2="187.5" stroke="#222" stroke-width="0.7"/>
<line x1="293.5" y1="181.85" x2="295.1" y2="181.85" stroke="#222" stroke-width="0.7"/>
<line x1="292.1" y1="176.2" x2="295.1" y2="176.2" stroke="#222" stroke-width="1"/>
<line x1="293.5" y1="170.55" x2="295.1" y2="170.55" stroke="#222" stroke-width="0.7"/>
<line x1="293.5" y1="164.9" x2="295.1" y2="164.9" stroke="#222" stroke-width="0.7"/>
<text x="288.9" y="223.9" font-size="7.4" stroke="#333" stroke-width="0.12" text-anchor="end" fill="#333">0</text>
<text x="288.9" y="201.3" font-size="7.4" stroke="#333" stroke-width="0.12" text-anchor="end" fill="#333">50</text>
<text x="288.9" y="178.7" font-size="7.4" stroke="#333" stroke-width="0.12" text-anchor="end" fill="#333">100</text>
<line x1="292.6" y1="221.4" x2="384" y2="221.4" stroke="#222" stroke-width="1"/>
<line x1="295.1" y1="221.4" x2="295.1" y2="224.4" stroke="#222" stroke-width="1"/>
<text x="299.4" y="232.7" font-size="8.1" stroke="#333" stroke-width="0.12" text-anchor="end" fill="#333" textLength="9.97" lengthAdjust="spacingAndGlyphs" transform="rotate(-45 299.4 232.7)">0.1</text>
<line x1="300.31" y1="221.4" x2="300.31" y2="222.8" stroke="#555" stroke-width="0.6"/>
<line x1="303.35" y1="221.4" x2="303.35" y2="222.8" stroke="#555" stroke-width="0.6"/>
<line x1="305.52" y1="221.4" x2="305.52" y2="222.8" stroke="#555" stroke-width="0.6"/>
<line x1="307.19" y1="221.4" x2="307.19" y2="222.8" stroke="#555" stroke-width="0.6"/>
<line x1="308.56" y1="221.4" x2="308.56" y2="222.8" stroke="#555" stroke-width="0.6"/>
<line x1="309.72" y1="221.4" x2="309.72" y2="222.8" stroke="#555" stroke-width="0.6"/>
<line x1="310.72" y1="221.4" x2="310.72" y2="222.8" stroke="#555" stroke-width="0.6"/>
<line x1="311.61" y1="221.4" x2="311.61" y2="222.8" stroke="#555" stroke-width="0.6"/>
<line x1="312.4" y1="221.4" x2="312.4" y2="224.4" stroke="#222" stroke-width="1"/>
<text x="316.7" y="232.7" font-size="8.1" stroke="#333" stroke-width="0.12" text-anchor="end" fill="#333" textLength="3.99" lengthAdjust="spacingAndGlyphs" transform="rotate(-45 316.7 232.7)">1</text>
<line x1="317.61" y1="221.4" x2="317.61" y2="222.8" stroke="#555" stroke-width="0.6"/>
<line x1="320.65" y1="221.4" x2="320.65" y2="222.8" stroke="#555" stroke-width="0.6"/>
<line x1="322.82" y1="221.4" x2="322.82" y2="222.8" stroke="#555" stroke-width="0.6"/>
<line x1="324.49" y1="221.4" x2="324.49" y2="222.8" stroke="#555" stroke-width="0.6"/>
<line x1="325.86" y1="221.4" x2="325.86" y2="222.8" stroke="#555" stroke-width="0.6"/>
<line x1="327.02" y1="221.4" x2="327.02" y2="222.8" stroke="#555" stroke-width="0.6"/>
<line x1="328.02" y1="221.4" x2="328.02" y2="222.8" stroke="#555" stroke-width="0.6"/>
<line x1="328.91" y1="221.4" x2="328.91" y2="222.8" stroke="#555" stroke-width="0.6"/>
<line x1="329.7" y1="221.4" x2="329.7" y2="224.4" stroke="#222" stroke-width="1"/>
<text x="334" y="232.7" font-size="8.1" stroke="#333" stroke-width="0.12" text-anchor="end" fill="#333" textLength="7.98" lengthAdjust="spacingAndGlyphs" transform="rotate(-45 334 232.7)">10</text>
<line x1="334.91" y1="221.4" x2="334.91" y2="222.8" stroke="#555" stroke-width="0.6"/>
<line x1="337.95" y1="221.4" x2="337.95" y2="222.8" stroke="#555" stroke-width="0.6"/>
<line x1="340.12" y1="221.4" x2="340.12" y2="222.8" stroke="#555" stroke-width="0.6"/>
<line x1="341.79" y1="221.4" x2="341.79" y2="222.8" stroke="#555" stroke-width="0.6"/>
<line x1="343.16" y1="221.4" x2="343.16" y2="222.8" stroke="#555" stroke-width="0.6"/>
<line x1="344.32" y1="221.4" x2="344.32" y2="222.8" stroke="#555" stroke-width="0.6"/>
<line x1="345.32" y1="221.4" x2="345.32" y2="222.8" stroke="#555" stroke-width="0.6"/>
<line x1="346.21" y1="221.4" x2="346.21" y2="222.8" stroke="#555" stroke-width="0.6"/>
<line x1="347" y1="221.4" x2="347" y2="224.4" stroke="#222" stroke-width="1"/>
<text x="351.3" y="232.7" font-size="8.1" stroke="#333" stroke-width="0.12" text-anchor="end" fill="#333" textLength="11.97" lengthAdjust="spacingAndGlyphs" transform="rotate(-45 351.3 232.7)">100</text>
<line x1="352.21" y1="221.4" x2="352.21" y2="222.8" stroke="#555" stroke-width="0.6"/>
<line x1="355.25" y1="221.4" x2="355.25" y2="222.8" stroke="#555" stroke-width="0.6"/>
<line x1="357.42" y1="221.4" x2="357.42" y2="222.8" stroke="#555" stroke-width="0.6"/>
<line x1="359.09" y1="221.4" x2="359.09" y2="222.8" stroke="#555" stroke-width="0.6"/>
<line x1="360.46" y1="221.4" x2="360.46" y2="222.8" stroke="#555" stroke-width="0.6"/>
<line x1="361.62" y1="221.4" x2="361.62" y2="222.8" stroke="#555" stroke-width="0.6"/>
<line x1="362.62" y1="221.4" x2="362.62" y2="222.8" stroke="#555" stroke-width="0.6"/>
<line x1="363.51" y1="221.4" x2="363.51" y2="222.8" stroke="#555" stroke-width="0.6"/>
<line x1="364.3" y1="221.4" x2="364.3" y2="224.4" stroke="#222" stroke-width="1"/>
<text x="368.6" y="232.7" font-size="8.1" stroke="#333" stroke-width="0.12" text-anchor="end" fill="#333" textLength="15.96" lengthAdjust="spacingAndGlyphs" transform="rotate(-45 368.6 232.7)">1000</text>
<line x1="369.51" y1="221.4" x2="369.51" y2="222.8" stroke="#555" stroke-width="0.6"/>
<line x1="372.55" y1="221.4" x2="372.55" y2="222.8" stroke="#555" stroke-width="0.6"/>
<line x1="374.72" y1="221.4" x2="374.72" y2="222.8" stroke="#555" stroke-width="0.6"/>
<line x1="376.39" y1="221.4" x2="376.39" y2="222.8" stroke="#555" stroke-width="0.6"/>
<line x1="377.76" y1="221.4" x2="377.76" y2="222.8" stroke="#555" stroke-width="0.6"/>
<line x1="378.92" y1="221.4" x2="378.92" y2="222.8" stroke="#555" stroke-width="0.6"/>
<line x1="379.92" y1="221.4" x2="379.92" y2="222.8" stroke="#555" stroke-width="0.6"/>
<line x1="380.81" y1="221.4" x2="380.81" y2="222.8" stroke="#555" stroke-width="0.6"/>
<line x1="381.6" y1="221.4" x2="381.6" y2="224.4" stroke="#222" stroke-width="1"/>
<text x="385.9" y="232.7" font-size="8.1" stroke="#333" stroke-width="0.12" text-anchor="end" fill="#333" textLength="19.95" lengthAdjust="spacingAndGlyphs" transform="rotate(-45 385.9 232.7)">10000</text>
<text x="269.2" y="192.02" font-size="7.9" text-anchor="middle" font-weight="bold" fill="#333" textLength="35.3" lengthAdjust="spacingAndGlyphs" transform="rotate(-90 269.2 192.02)">Viability (%)</text>
<text x="317.6" y="260" font-size="9" stroke="#333" stroke-width="0.3" fill="#333" textLength="27.4" lengthAdjust="spacingAndGlyphs">[PRT-808]</text>
<text x="349" y="260" font-size="9" stroke="#333" stroke-width="0.3" fill="#333" textLength="13.3" lengthAdjust="spacingAndGlyphs">(nM)</text>
<line x1="308.7" y1="143.8" x2="315.4" y2="143.8" stroke="#18283a" stroke-width="0.7"/>
<circle cx="312.05" cy="143.8" r="1.25" fill="#0c141e"/>
<text x="318.5" y="146.55" font-size="8.1" stroke="#333" stroke-width="0.12" fill="#333" textLength="50.8" lengthAdjust="spacingAndGlyphs">REC-1 Sensitive</text>
<line x1="308.7" y1="154.3" x2="315.4" y2="154.3" stroke="#7a1230" stroke-width="0.7"/>
<circle cx="312.05" cy="154.3" r="1.25" fill="#5a0a1e"/>
<text x="318.5" y="157.05" font-size="8.1" stroke="#333" stroke-width="0.12" fill="#333" textLength="52.2" lengthAdjust="spacingAndGlyphs">REC-1 Resistant</text>
<polyline points="312.4,176 324.4,178.3 329.7,183.3 341.8,197.1 347,198.3 353.9,197.1 358.7,200.2 361.6,200.6 364.5,202.9 367.4,202.9" fill="none" stroke="#dc3558" stroke-width="0.85"/>
<line x1="312.4" y1="175" x2="312.4" y2="177" stroke="#dc3558" stroke-width="0.8"/>
<line x1="311.3" y1="175" x2="313.5" y2="175" stroke="#dc3558" stroke-width="0.8"/>
<line x1="311.3" y1="177" x2="313.5" y2="177" stroke="#dc3558" stroke-width="0.8"/>
<circle cx="312.4" cy="176" r="1.35" fill="#a80f2c"/>
<line x1="324.4" y1="177.3" x2="324.4" y2="179.3" stroke="#dc3558" stroke-width="0.8"/>
<line x1="323.3" y1="177.3" x2="325.5" y2="177.3" stroke="#dc3558" stroke-width="0.8"/>
<line x1="323.3" y1="179.3" x2="325.5" y2="179.3" stroke="#dc3558" stroke-width="0.8"/>
<circle cx="324.4" cy="178.3" r="1.35" fill="#a80f2c"/>
<line x1="329.7" y1="179.3" x2="329.7" y2="187.3" stroke="#dc3558" stroke-width="0.8"/>
<line x1="328.6" y1="179.3" x2="330.8" y2="179.3" stroke="#dc3558" stroke-width="0.8"/>
<line x1="328.6" y1="187.3" x2="330.8" y2="187.3" stroke="#dc3558" stroke-width="0.8"/>
<circle cx="329.7" cy="183.3" r="1.35" fill="#a80f2c"/>
<line x1="341.8" y1="193.1" x2="341.8" y2="201.1" stroke="#dc3558" stroke-width="0.8"/>
<line x1="340.7" y1="193.1" x2="342.9" y2="193.1" stroke="#dc3558" stroke-width="0.8"/>
<line x1="340.7" y1="201.1" x2="342.9" y2="201.1" stroke="#dc3558" stroke-width="0.8"/>
<circle cx="341.8" cy="197.1" r="1.35" fill="#a80f2c"/>
<line x1="347" y1="194.8" x2="347" y2="201.8" stroke="#dc3558" stroke-width="0.8"/>
<line x1="345.9" y1="194.8" x2="348.1" y2="194.8" stroke="#dc3558" stroke-width="0.8"/>
<line x1="345.9" y1="201.8" x2="348.1" y2="201.8" stroke="#dc3558" stroke-width="0.8"/>
<circle cx="347" cy="198.3" r="1.35" fill="#a80f2c"/>
<line x1="353.9" y1="193.1" x2="353.9" y2="201.1" stroke="#dc3558" stroke-width="0.8"/>
<line x1="352.8" y1="193.1" x2="355" y2="193.1" stroke="#dc3558" stroke-width="0.8"/>
<line x1="352.8" y1="201.1" x2="355" y2="201.1" stroke="#dc3558" stroke-width="0.8"/>
<circle cx="353.9" cy="197.1" r="1.35" fill="#a80f2c"/>
<line x1="358.7" y1="196.7" x2="358.7" y2="203.7" stroke="#dc3558" stroke-width="0.8"/>
<line x1="357.6" y1="196.7" x2="359.8" y2="196.7" stroke="#dc3558" stroke-width="0.8"/>
<line x1="357.6" y1="203.7" x2="359.8" y2="203.7" stroke="#dc3558" stroke-width="0.8"/>
<circle cx="358.7" cy="200.2" r="1.35" fill="#a80f2c"/>
<line x1="361.6" y1="197.1" x2="361.6" y2="204.1" stroke="#dc3558" stroke-width="0.8"/>
<line x1="360.5" y1="197.1" x2="362.7" y2="197.1" stroke="#dc3558" stroke-width="0.8"/>
<line x1="360.5" y1="204.1" x2="362.7" y2="204.1" stroke="#dc3558" stroke-width="0.8"/>
<circle cx="361.6" cy="200.6" r="1.35" fill="#a80f2c"/>
<line x1="364.5" y1="199.4" x2="364.5" y2="206.4" stroke="#dc3558" stroke-width="0.8"/>
<line x1="363.4" y1="199.4" x2="365.6" y2="199.4" stroke="#dc3558" stroke-width="0.8"/>
<line x1="363.4" y1="206.4" x2="365.6" y2="206.4" stroke="#dc3558" stroke-width="0.8"/>
<circle cx="364.5" cy="202.9" r="1.35" fill="#a80f2c"/>
<line x1="367.4" y1="199.4" x2="367.4" y2="206.4" stroke="#dc3558" stroke-width="0.8"/>
<line x1="366.3" y1="199.4" x2="368.5" y2="199.4" stroke="#dc3558" stroke-width="0.8"/>
<line x1="366.3" y1="206.4" x2="368.5" y2="206.4" stroke="#dc3558" stroke-width="0.8"/>
<circle cx="367.4" cy="202.9" r="1.35" fill="#a80f2c"/>
<polyline points="312.4,179 324.4,178.3 329.7,190.2 341.8,211.5 347,213.3 353.9,213.6 358.7,213.6 361.6,213.8 364.5,214 367.4,214.4" fill="none" stroke="#3f72a0" stroke-width="0.85"/>
<line x1="312.4" y1="177.5" x2="312.4" y2="180.5" stroke="#3f72a0" stroke-width="0.8"/>
<line x1="311.3" y1="177.5" x2="313.5" y2="177.5" stroke="#3f72a0" stroke-width="0.8"/>
<line x1="311.3" y1="180.5" x2="313.5" y2="180.5" stroke="#3f72a0" stroke-width="0.8"/>
<circle cx="312.4" cy="179" r="1.25" fill="#1b2f48"/>
<line x1="324.4" y1="177.3" x2="324.4" y2="179.3" stroke="#3f72a0" stroke-width="0.8"/>
<line x1="323.3" y1="177.3" x2="325.5" y2="177.3" stroke="#3f72a0" stroke-width="0.8"/>
<line x1="323.3" y1="179.3" x2="325.5" y2="179.3" stroke="#3f72a0" stroke-width="0.8"/>
<circle cx="324.4" cy="178.3" r="1.25" fill="#1b2f48"/>
<line x1="329.7" y1="186.2" x2="329.7" y2="194.2" stroke="#3f72a0" stroke-width="0.8"/>
<line x1="328.6" y1="186.2" x2="330.8" y2="186.2" stroke="#3f72a0" stroke-width="0.8"/>
<line x1="328.6" y1="194.2" x2="330.8" y2="194.2" stroke="#3f72a0" stroke-width="0.8"/>
<circle cx="329.7" cy="190.2" r="1.25" fill="#1b2f48"/>
<line x1="341.8" y1="209.5" x2="341.8" y2="213.5" stroke="#3f72a0" stroke-width="0.8"/>
<line x1="340.7" y1="209.5" x2="342.9" y2="209.5" stroke="#3f72a0" stroke-width="0.8"/>
<line x1="340.7" y1="213.5" x2="342.9" y2="213.5" stroke="#3f72a0" stroke-width="0.8"/>
<circle cx="341.8" cy="211.5" r="1.25" fill="#1b2f48"/>
<line x1="347" y1="210.8" x2="347" y2="215.8" stroke="#3f72a0" stroke-width="0.8"/>
<line x1="345.9" y1="210.8" x2="348.1" y2="210.8" stroke="#3f72a0" stroke-width="0.8"/>
<line x1="345.9" y1="215.8" x2="348.1" y2="215.8" stroke="#3f72a0" stroke-width="0.8"/>
<circle cx="347" cy="213.3" r="1.25" fill="#1b2f48"/>
<line x1="353.9" y1="212.6" x2="353.9" y2="214.6" stroke="#3f72a0" stroke-width="0.8"/>
<line x1="352.8" y1="212.6" x2="355" y2="212.6" stroke="#3f72a0" stroke-width="0.8"/>
<line x1="352.8" y1="214.6" x2="355" y2="214.6" stroke="#3f72a0" stroke-width="0.8"/>
<circle cx="353.9" cy="213.6" r="1.25" fill="#1b2f48"/>
<line x1="358.7" y1="212.6" x2="358.7" y2="214.6" stroke="#3f72a0" stroke-width="0.8"/>
<line x1="357.6" y1="212.6" x2="359.8" y2="212.6" stroke="#3f72a0" stroke-width="0.8"/>
<line x1="357.6" y1="214.6" x2="359.8" y2="214.6" stroke="#3f72a0" stroke-width="0.8"/>
<circle cx="358.7" cy="213.6" r="1.25" fill="#1b2f48"/>
<line x1="361.6" y1="212.8" x2="361.6" y2="214.8" stroke="#3f72a0" stroke-width="0.8"/>
<line x1="360.5" y1="212.8" x2="362.7" y2="212.8" stroke="#3f72a0" stroke-width="0.8"/>
<line x1="360.5" y1="214.8" x2="362.7" y2="214.8" stroke="#3f72a0" stroke-width="0.8"/>
<circle cx="361.6" cy="213.8" r="1.25" fill="#1b2f48"/>
<line x1="364.5" y1="213" x2="364.5" y2="215" stroke="#3f72a0" stroke-width="0.8"/>
<line x1="363.4" y1="213" x2="365.6" y2="213" stroke="#3f72a0" stroke-width="0.8"/>
<line x1="363.4" y1="215" x2="365.6" y2="215" stroke="#3f72a0" stroke-width="0.8"/>
<circle cx="364.5" cy="214" r="1.25" fill="#1b2f48"/>
<line x1="367.4" y1="213.4" x2="367.4" y2="215.4" stroke="#3f72a0" stroke-width="0.8"/>
<line x1="366.3" y1="213.4" x2="368.5" y2="213.4" stroke="#3f72a0" stroke-width="0.8"/>
<line x1="366.3" y1="215.4" x2="368.5" y2="215.4" stroke="#3f72a0" stroke-width="0.8"/>
<circle cx="367.4" cy="214.4" r="1.25" fill="#1b2f48"/>
<line x1="422.7" y1="162.64" x2="422.7" y2="221.9" stroke="#222" stroke-width="1"/>
<line x1="419.7" y1="221.4" x2="422.7" y2="221.4" stroke="#222" stroke-width="1"/>
<line x1="421.1" y1="215.75" x2="422.7" y2="215.75" stroke="#222" stroke-width="0.7"/>
<line x1="421.1" y1="210.1" x2="422.7" y2="210.1" stroke="#222" stroke-width="0.7"/>
<line x1="421.1" y1="204.45" x2="422.7" y2="204.45" stroke="#222" stroke-width="0.7"/>
<line x1="419.7" y1="198.8" x2="422.7" y2="198.8" stroke="#222" stroke-width="1"/>
<line x1="421.1" y1="193.15" x2="422.7" y2="193.15" stroke="#222" stroke-width="0.7"/>
<line x1="421.1" y1="187.5" x2="422.7" y2="187.5" stroke="#222" stroke-width="0.7"/>
<line x1="421.1" y1="181.85" x2="422.7" y2="181.85" stroke="#222" stroke-width="0.7"/>
<line x1="419.7" y1="176.2" x2="422.7" y2="176.2" stroke="#222" stroke-width="1"/>
<line x1="421.1" y1="170.55" x2="422.7" y2="170.55" stroke="#222" stroke-width="0.7"/>
<line x1="421.1" y1="164.9" x2="422.7" y2="164.9" stroke="#222" stroke-width="0.7"/>
<text x="416.5" y="223.9" font-size="7.4" stroke="#333" stroke-width="0.12" text-anchor="end" fill="#333">0</text>
<text x="416.5" y="201.3" font-size="7.4" stroke="#333" stroke-width="0.12" text-anchor="end" fill="#333">50</text>
<text x="416.5" y="178.7" font-size="7.4" stroke="#333" stroke-width="0.12" text-anchor="end" fill="#333">100</text>
<line x1="420.2" y1="221.4" x2="511.1" y2="221.4" stroke="#222" stroke-width="1"/>
<line x1="422.7" y1="221.4" x2="422.7" y2="224.4" stroke="#222" stroke-width="1"/>
<text x="427" y="232.7" font-size="8.1" stroke="#333" stroke-width="0.12" text-anchor="end" fill="#333" textLength="9.97" lengthAdjust="spacingAndGlyphs" transform="rotate(-45 427 232.7)">0.1</text>
<line x1="427.91" y1="221.4" x2="427.91" y2="222.8" stroke="#555" stroke-width="0.6"/>
<line x1="430.95" y1="221.4" x2="430.95" y2="222.8" stroke="#555" stroke-width="0.6"/>
<line x1="433.12" y1="221.4" x2="433.12" y2="222.8" stroke="#555" stroke-width="0.6"/>
<line x1="434.79" y1="221.4" x2="434.79" y2="222.8" stroke="#555" stroke-width="0.6"/>
<line x1="436.16" y1="221.4" x2="436.16" y2="222.8" stroke="#555" stroke-width="0.6"/>
<line x1="437.32" y1="221.4" x2="437.32" y2="222.8" stroke="#555" stroke-width="0.6"/>
<line x1="438.32" y1="221.4" x2="438.32" y2="222.8" stroke="#555" stroke-width="0.6"/>
<line x1="439.21" y1="221.4" x2="439.21" y2="222.8" stroke="#555" stroke-width="0.6"/>
<line x1="440" y1="221.4" x2="440" y2="224.4" stroke="#222" stroke-width="1"/>
<text x="444.3" y="232.7" font-size="8.1" stroke="#333" stroke-width="0.12" text-anchor="end" fill="#333" textLength="3.99" lengthAdjust="spacingAndGlyphs" transform="rotate(-45 444.3 232.7)">1</text>
<line x1="445.21" y1="221.4" x2="445.21" y2="222.8" stroke="#555" stroke-width="0.6"/>
<line x1="448.25" y1="221.4" x2="448.25" y2="222.8" stroke="#555" stroke-width="0.6"/>
<line x1="450.42" y1="221.4" x2="450.42" y2="222.8" stroke="#555" stroke-width="0.6"/>
<line x1="452.09" y1="221.4" x2="452.09" y2="222.8" stroke="#555" stroke-width="0.6"/>
<line x1="453.46" y1="221.4" x2="453.46" y2="222.8" stroke="#555" stroke-width="0.6"/>
<line x1="454.62" y1="221.4" x2="454.62" y2="222.8" stroke="#555" stroke-width="0.6"/>
<line x1="455.62" y1="221.4" x2="455.62" y2="222.8" stroke="#555" stroke-width="0.6"/>
<line x1="456.51" y1="221.4" x2="456.51" y2="222.8" stroke="#555" stroke-width="0.6"/>
<line x1="457.3" y1="221.4" x2="457.3" y2="224.4" stroke="#222" stroke-width="1"/>
<text x="461.6" y="232.7" font-size="8.1" stroke="#333" stroke-width="0.12" text-anchor="end" fill="#333" textLength="7.98" lengthAdjust="spacingAndGlyphs" transform="rotate(-45 461.6 232.7)">10</text>
<line x1="462.45" y1="221.4" x2="462.45" y2="222.8" stroke="#555" stroke-width="0.6"/>
<line x1="465.46" y1="221.4" x2="465.46" y2="222.8" stroke="#555" stroke-width="0.6"/>
<line x1="467.6" y1="221.4" x2="467.6" y2="222.8" stroke="#555" stroke-width="0.6"/>
<line x1="469.25" y1="221.4" x2="469.25" y2="222.8" stroke="#555" stroke-width="0.6"/>
<line x1="470.61" y1="221.4" x2="470.61" y2="222.8" stroke="#555" stroke-width="0.6"/>
<line x1="471.75" y1="221.4" x2="471.75" y2="222.8" stroke="#555" stroke-width="0.6"/>
<line x1="472.74" y1="221.4" x2="472.74" y2="222.8" stroke="#555" stroke-width="0.6"/>
<line x1="473.62" y1="221.4" x2="473.62" y2="222.8" stroke="#555" stroke-width="0.6"/>
<line x1="474.4" y1="221.4" x2="474.4" y2="224.4" stroke="#222" stroke-width="1"/>
<text x="478.7" y="232.7" font-size="8.1" stroke="#333" stroke-width="0.12" text-anchor="end" fill="#333" textLength="11.97" lengthAdjust="spacingAndGlyphs" transform="rotate(-45 478.7 232.7)">100</text>
<line x1="479.55" y1="221.4" x2="479.55" y2="222.8" stroke="#555" stroke-width="0.6"/>
<line x1="482.56" y1="221.4" x2="482.56" y2="222.8" stroke="#555" stroke-width="0.6"/>
<line x1="484.7" y1="221.4" x2="484.7" y2="222.8" stroke="#555" stroke-width="0.6"/>
<line x1="486.35" y1="221.4" x2="486.35" y2="222.8" stroke="#555" stroke-width="0.6"/>
<line x1="487.71" y1="221.4" x2="487.71" y2="222.8" stroke="#555" stroke-width="0.6"/>
<line x1="488.85" y1="221.4" x2="488.85" y2="222.8" stroke="#555" stroke-width="0.6"/>
<line x1="489.84" y1="221.4" x2="489.84" y2="222.8" stroke="#555" stroke-width="0.6"/>
<line x1="490.72" y1="221.4" x2="490.72" y2="222.8" stroke="#555" stroke-width="0.6"/>
<line x1="491.5" y1="221.4" x2="491.5" y2="224.4" stroke="#222" stroke-width="1"/>
<text x="495.8" y="232.7" font-size="8.1" stroke="#333" stroke-width="0.12" text-anchor="end" fill="#333" textLength="15.96" lengthAdjust="spacingAndGlyphs" transform="rotate(-45 495.8 232.7)">1000</text>
<line x1="496.68" y1="221.4" x2="496.68" y2="222.8" stroke="#555" stroke-width="0.6"/>
<line x1="499.71" y1="221.4" x2="499.71" y2="222.8" stroke="#555" stroke-width="0.6"/>
<line x1="501.86" y1="221.4" x2="501.86" y2="222.8" stroke="#555" stroke-width="0.6"/>
<line x1="503.52" y1="221.4" x2="503.52" y2="222.8" stroke="#555" stroke-width="0.6"/>
<line x1="504.88" y1="221.4" x2="504.88" y2="222.8" stroke="#555" stroke-width="0.6"/>
<line x1="506.04" y1="221.4" x2="506.04" y2="222.8" stroke="#555" stroke-width="0.6"/>
<line x1="507.03" y1="221.4" x2="507.03" y2="222.8" stroke="#555" stroke-width="0.6"/>
<line x1="507.91" y1="221.4" x2="507.91" y2="222.8" stroke="#555" stroke-width="0.6"/>
<line x1="508.7" y1="221.4" x2="508.7" y2="224.4" stroke="#222" stroke-width="1"/>
<text x="513" y="232.7" font-size="8.1" stroke="#333" stroke-width="0.12" text-anchor="end" fill="#333" textLength="19.95" lengthAdjust="spacingAndGlyphs" transform="rotate(-45 513 232.7)">10000</text>
<text x="396.8" y="192.02" font-size="7.9" text-anchor="middle" font-weight="bold" fill="#333" textLength="35.3" lengthAdjust="spacingAndGlyphs" transform="rotate(-90 396.8 192.02)">Viability (%)</text>
<text x="444.95" y="260" font-size="9" stroke="#333" stroke-width="0.3" fill="#333" textLength="27.4" lengthAdjust="spacingAndGlyphs">[PRT-808]</text>
<text x="476.35" y="260" font-size="9" stroke="#333" stroke-width="0.3" fill="#333" textLength="13.3" lengthAdjust="spacingAndGlyphs">(nM)</text>
<line x1="432.8" y1="143.8" x2="439.5" y2="143.8" stroke="#18283a" stroke-width="0.7"/>
<circle cx="436.15" cy="143.8" r="1.25" fill="#0c141e"/>
<text x="442.8" y="146.55" font-size="8.1" stroke="#333" stroke-width="0.12" fill="#333" textLength="56" lengthAdjust="spacingAndGlyphs">CCMCL Sensitive</text>
<line x1="432.8" y1="154.3" x2="439.5" y2="154.3" stroke="#7a1230" stroke-width="0.7"/>
<circle cx="436.15" cy="154.3" r="1.25" fill="#5a0a1e"/>
<text x="442.8" y="157.05" font-size="8.1" stroke="#333" stroke-width="0.12" fill="#333" textLength="57.2" lengthAdjust="spacingAndGlyphs">CCMCL Resistant</text>
<polyline points="439.6,175.5 451.7,175.5 456.9,175.5 468.7,182.7 474,213.6 480.9,217.3 485.7,217.5 488.5,216.7 491.5,216.7 494.4,217.3" fill="none" stroke="#dc3558" stroke-width="0.85"/>
<circle cx="439.6" cy="175.5" r="1.35" fill="#a80f2c"/>
<circle cx="451.7" cy="175.5" r="1.35" fill="#a80f2c"/>
<circle cx="456.9" cy="175.5" r="1.35" fill="#a80f2c"/>
<circle cx="468.7" cy="182.7" r="1.35" fill="#a80f2c"/>
<line x1="474" y1="211.3" x2="474" y2="215.9" stroke="#dc3558" stroke-width="0.8"/>
<line x1="472.9" y1="211.3" x2="475.1" y2="211.3" stroke="#dc3558" stroke-width="0.8"/>
<line x1="472.9" y1="215.9" x2="475.1" y2="215.9" stroke="#dc3558" stroke-width="0.8"/>
<circle cx="474" cy="213.6" r="1.35" fill="#a80f2c"/>
<circle cx="480.9" cy="217.3" r="1.35" fill="#a80f2c"/>
<circle cx="485.7" cy="217.5" r="1.35" fill="#a80f2c"/>
<line x1="488.5" y1="215.2" x2="488.5" y2="218.2" stroke="#dc3558" stroke-width="0.8"/>
<line x1="487.4" y1="215.2" x2="489.6" y2="215.2" stroke="#dc3558" stroke-width="0.8"/>
<line x1="487.4" y1="218.2" x2="489.6" y2="218.2" stroke="#dc3558" stroke-width="0.8"/>
<circle cx="488.5" cy="216.7" r="1.35" fill="#a80f2c"/>
<line x1="491.5" y1="215.2" x2="491.5" y2="218.2" stroke="#dc3558" stroke-width="0.8"/>
<line x1="490.4" y1="215.2" x2="492.6" y2="215.2" stroke="#dc3558" stroke-width="0.8"/>
<line x1="490.4" y1="218.2" x2="492.6" y2="218.2" stroke="#dc3558" stroke-width="0.8"/>
<circle cx="491.5" cy="216.7" r="1.35" fill="#a80f2c"/>
<line x1="494.4" y1="215.8" x2="494.4" y2="218.8" stroke="#dc3558" stroke-width="0.8"/>
<line x1="493.3" y1="215.8" x2="495.5" y2="215.8" stroke="#dc3558" stroke-width="0.8"/>
<line x1="493.3" y1="218.8" x2="495.5" y2="218.8" stroke="#dc3558" stroke-width="0.8"/>
<circle cx="494.4" cy="217.3" r="1.35" fill="#a80f2c"/>
<polyline points="439.6,175.5 451.7,189.8 456.9,218.4 468.7,217.1 474,217.1 480.9,217.3 485.7,217.5 488.5,217.8 491.5,218 494.4,218.2" fill="none" stroke="#3f72a0" stroke-width="0.85"/>
<circle cx="439.6" cy="175.5" r="1.25" fill="#1b2f48"/>
<line x1="451.7" y1="186.9" x2="451.7" y2="192.7" stroke="#3f72a0" stroke-width="0.8"/>
<line x1="450.6" y1="186.9" x2="452.8" y2="186.9" stroke="#3f72a0" stroke-width="0.8"/>
<line x1="450.6" y1="192.7" x2="452.8" y2="192.7" stroke="#3f72a0" stroke-width="0.8"/>
<circle cx="451.7" cy="189.8" r="1.25" fill="#1b2f48"/>
<circle cx="456.9" cy="218.4" r="1.25" fill="#1b2f48"/>
<line x1="468.7" y1="215.9" x2="468.7" y2="218.3" stroke="#3f72a0" stroke-width="0.8"/>
<line x1="467.6" y1="215.9" x2="469.8" y2="215.9" stroke="#3f72a0" stroke-width="0.8"/>
<line x1="467.6" y1="218.3" x2="469.8" y2="218.3" stroke="#3f72a0" stroke-width="0.8"/>
<circle cx="468.7" cy="217.1" r="1.25" fill="#1b2f48"/>
<line x1="474" y1="215.9" x2="474" y2="218.3" stroke="#3f72a0" stroke-width="0.8"/>
<line x1="472.9" y1="215.9" x2="475.1" y2="215.9" stroke="#3f72a0" stroke-width="0.8"/>
<line x1="472.9" y1="218.3" x2="475.1" y2="218.3" stroke="#3f72a0" stroke-width="0.8"/>
<circle cx="474" cy="217.1" r="1.25" fill="#1b2f48"/>
<circle cx="480.9" cy="217.3" r="1.25" fill="#1b2f48"/>
<circle cx="485.7" cy="217.5" r="1.25" fill="#1b2f48"/>
<circle cx="488.5" cy="217.8" r="1.25" fill="#1b2f48"/>
<circle cx="491.5" cy="218" r="1.25" fill="#1b2f48"/>
<circle cx="494.4" cy="218.2" r="1.25" fill="#1b2f48"/>
<text x="184" y="286.4" font-size="9.15" stroke="#222" stroke-width="0.12" text-anchor="middle" textLength="90.1" lengthAdjust="spacingAndGlyphs">SDMA WB expression</text>
<line x1="75.3" y1="331" x2="75.3" y2="397.5" stroke="#222" stroke-width="1"/>
<line x1="72.3" y1="397" x2="75.3" y2="397" stroke="#222" stroke-width="1"/>
<text x="69.8" y="399.6" font-size="7.4" stroke="#333" stroke-width="0.12" text-anchor="end" fill="#333">0</text>
<line x1="72.3" y1="375.5" x2="75.3" y2="375.5" stroke="#222" stroke-width="1"/>
<text x="69.8" y="378.1" font-size="7.4" stroke="#333" stroke-width="0.12" text-anchor="end" fill="#333">1</text>
<line x1="72.3" y1="354" x2="75.3" y2="354" stroke="#222" stroke-width="1"/>
<text x="69.8" y="356.6" font-size="7.4" stroke="#333" stroke-width="0.12" text-anchor="end" fill="#333">2</text>
<line x1="72.3" y1="332.5" x2="75.3" y2="332.5" stroke="#222" stroke-width="1"/>
<text x="69.8" y="335.1" font-size="7.4" stroke="#333" stroke-width="0.12" text-anchor="end" fill="#333">3</text>
<line x1="74.8" y1="397" x2="292" y2="397" stroke="#222" stroke-width="1"/>
<text x="48.9" y="363.5" font-size="8.8" text-anchor="middle" font-weight="bold" fill="#333" textLength="30.3" lengthAdjust="spacingAndGlyphs" transform="rotate(-90 48.9 363.5)">Normalized</text>
<text x="59.6" y="363.5" font-size="8.8" text-anchor="middle" font-weight="bold" fill="#333" textLength="50.4" lengthAdjust="spacingAndGlyphs" transform="rotate(-90 59.6 363.5)">protein expression</text>
<line x1="96.7" y1="397" x2="96.7" y2="399.8" stroke="#222" stroke-width="1"/>
<text x="96.7" y="410.4" font-size="7.7" stroke="#222" stroke-width="0.12" text-anchor="middle">CCMCL</text>
<rect x="78.7" y="376.2" width="6" height="20.8" fill="#174581"/>
<line x1="89.2" y1="386" x2="89.2" y2="388.6" stroke="#c8102e" stroke-width="0.8"/>
<line x1="87.7" y1="386" x2="90.7" y2="386" stroke="#c8102e" stroke-width="0.8"/>
<rect x="86.2" y="388.6" width="6" height="8.4" fill="#c8102e"/>
<line x1="96.7" y1="341.4" x2="96.7" y2="350.8" stroke="#6aa86a" stroke-width="0.8"/>
<line x1="95.2" y1="341.4" x2="98.2" y2="341.4" stroke="#6aa86a" stroke-width="0.8"/>
<rect x="93.7" y="350.8" width="6" height="46.2" fill="#34b233"/>
<line x1="104.2" y1="366.7" x2="104.2" y2="370.2" stroke="#6a3a80" stroke-width="0.8"/>
<line x1="102.7" y1="366.7" x2="105.7" y2="366.7" stroke="#6a3a80" stroke-width="0.8"/>
<rect x="101.2" y="370.2" width="6" height="26.8" fill="#521a6e"/>
<line x1="111.7" y1="380.3" x2="111.7" y2="384.5" stroke="#e8a040" stroke-width="0.8"/>
<line x1="110.2" y1="380.3" x2="113.2" y2="380.3" stroke="#e8a040" stroke-width="0.8"/>
<rect x="108.7" y="384.5" width="6" height="12.5" fill="#f39a1c"/>
<line x1="140.3" y1="397" x2="140.3" y2="399.8" stroke="#222" stroke-width="1"/>
<text x="140.3" y="410.4" font-size="7.7" stroke="#222" stroke-width="0.12" text-anchor="middle">REC-1</text>
<rect x="122.3" y="376.2" width="6" height="20.8" fill="#174581"/>
<line x1="132.8" y1="391.2" x2="132.8" y2="392.7" stroke="#c8102e" stroke-width="0.8"/>
<line x1="131.3" y1="391.2" x2="134.3" y2="391.2" stroke="#c8102e" stroke-width="0.8"/>
<rect x="129.8" y="392.7" width="6" height="4.3" fill="#c8102e"/>
<line x1="140.3" y1="362.6" x2="140.3" y2="367.4" stroke="#6aa86a" stroke-width="0.8"/>
<line x1="138.8" y1="362.6" x2="141.8" y2="362.6" stroke="#6aa86a" stroke-width="0.8"/>
<rect x="137.3" y="367.4" width="6" height="29.6" fill="#34b233"/>
<line x1="147.8" y1="387.1" x2="147.8" y2="389.4" stroke="#6a3a80" stroke-width="0.8"/>
<line x1="146.3" y1="387.1" x2="149.3" y2="387.1" stroke="#6a3a80" stroke-width="0.8"/>
<rect x="144.8" y="389.4" width="6" height="7.6" fill="#521a6e"/>
<line x1="155.3" y1="387.9" x2="155.3" y2="390.6" stroke="#e8a040" stroke-width="0.8"/>
<line x1="153.8" y1="387.9" x2="156.8" y2="387.9" stroke="#e8a040" stroke-width="0.8"/>
<rect x="152.3" y="390.6" width="6" height="6.4" fill="#f39a1c"/>
<line x1="183.9" y1="397" x2="183.9" y2="399.8" stroke="#222" stroke-width="1"/>
<text x="183.9" y="410.4" font-size="7.7" stroke="#222" stroke-width="0.12" text-anchor="middle">SP53</text>
<rect x="165.9" y="376" width="6" height="21" fill="#174581"/>
<line x1="176.4" y1="389.5" x2="176.4" y2="391.1" stroke="#c8102e" stroke-width="0.8"/>
<line x1="174.9" y1="389.5" x2="177.9" y2="389.5" stroke="#c8102e" stroke-width="0.8"/>
<rect x="173.4" y="391.1" width="6" height="5.9" fill="#c8102e"/>
<line x1="183.9" y1="370.7" x2="183.9" y2="374.3" stroke="#6aa86a" stroke-width="0.8"/>
<line x1="182.4" y1="370.7" x2="185.4" y2="370.7" stroke="#6aa86a" stroke-width="0.8"/>
<rect x="180.9" y="374.3" width="6" height="22.7" fill="#34b233"/>
<line x1="191.4" y1="384.4" x2="191.4" y2="386.8" stroke="#6a3a80" stroke-width="0.8"/>
<line x1="189.9" y1="384.4" x2="192.9" y2="384.4" stroke="#6a3a80" stroke-width="0.8"/>
<rect x="188.4" y="386.8" width="6" height="10.2" fill="#521a6e"/>
<line x1="198.9" y1="390" x2="198.9" y2="391.8" stroke="#e8a040" stroke-width="0.8"/>
<line x1="197.4" y1="390" x2="200.4" y2="390" stroke="#e8a040" stroke-width="0.8"/>
<rect x="195.9" y="391.8" width="6" height="5.2" fill="#f39a1c"/>
<line x1="227.5" y1="397" x2="227.5" y2="399.8" stroke="#222" stroke-width="1"/>
<text x="227.5" y="410.4" font-size="7.7" stroke="#222" stroke-width="0.12" text-anchor="middle">Z-138</text>
<rect x="209.5" y="376" width="6" height="21" fill="#174581"/>
<line x1="220" y1="391.4" x2="220" y2="392.8" stroke="#c8102e" stroke-width="0.8"/>
<line x1="218.5" y1="391.4" x2="221.5" y2="391.4" stroke="#c8102e" stroke-width="0.8"/>
<rect x="217" y="392.8" width="6" height="4.2" fill="#c8102e"/>
<line x1="227.5" y1="370.3" x2="227.5" y2="377" stroke="#6aa86a" stroke-width="0.8"/>
<line x1="226" y1="370.3" x2="229" y2="370.3" stroke="#6aa86a" stroke-width="0.8"/>
<rect x="224.5" y="377" width="6" height="20" fill="#34b233"/>
<line x1="235" y1="391.5" x2="235" y2="393.8" stroke="#6a3a80" stroke-width="0.8"/>
<line x1="233.5" y1="391.5" x2="236.5" y2="391.5" stroke="#6a3a80" stroke-width="0.8"/>
<rect x="232" y="393.8" width="6" height="3.2" fill="#521a6e"/>
<line x1="242.5" y1="392.5" x2="242.5" y2="394.5" stroke="#e8a040" stroke-width="0.8"/>
<line x1="241" y1="392.5" x2="244" y2="392.5" stroke="#e8a040" stroke-width="0.8"/>
<rect x="239.5" y="394.5" width="6" height="2.5" fill="#f39a1c"/>
<line x1="271.1" y1="397" x2="271.1" y2="399.8" stroke="#222" stroke-width="1"/>
<text x="271.1" y="410.4" font-size="7.7" stroke="#222" stroke-width="0.12" text-anchor="middle">PDX</text>
<line x1="256.1" y1="374.3" x2="256.1" y2="376.3" stroke="#2a5a90" stroke-width="0.8"/>
<line x1="254.6" y1="374.3" x2="257.6" y2="374.3" stroke="#2a5a90" stroke-width="0.8"/>
<rect x="253.1" y="376.3" width="6" height="20.7" fill="#174581"/>
<line x1="263.6" y1="388" x2="263.6" y2="389.8" stroke="#c8102e" stroke-width="0.8"/>
<line x1="262.1" y1="388" x2="265.1" y2="388" stroke="#c8102e" stroke-width="0.8"/>
<rect x="260.6" y="389.8" width="6" height="7.2" fill="#c8102e"/>
<line x1="271.1" y1="372.7" x2="271.1" y2="375.7" stroke="#6aa86a" stroke-width="0.8"/>
<line x1="269.6" y1="372.7" x2="272.6" y2="372.7" stroke="#6aa86a" stroke-width="0.8"/>
<rect x="268.1" y="375.7" width="6" height="21.3" fill="#34b233"/>
<line x1="278.6" y1="385" x2="278.6" y2="386.4" stroke="#6a3a80" stroke-width="0.8"/>
<line x1="277.1" y1="385" x2="280.1" y2="385" stroke="#6a3a80" stroke-width="0.8"/>
<rect x="275.6" y="386.4" width="6" height="10.6" fill="#521a6e"/>
<path d="M81.7 372V334.5H89.2V383" fill="none" stroke="#555" stroke-width="1"/>
<circle cx="81.03" cy="331.4" r="0.95" fill="#333"/>
<circle cx="83.98" cy="331.4" r="0.95" fill="#333"/>
<circle cx="86.92" cy="331.4" r="0.95" fill="#333"/>
<circle cx="89.88" cy="331.4" r="0.95" fill="#333"/>
<path d="M104.2 363.7V334.5H111.7V377.3" fill="none" stroke="#555" stroke-width="1"/>
<circle cx="103.53" cy="331.4" r="0.95" fill="#333"/>
<circle cx="106.48" cy="331.4" r="0.95" fill="#333"/>
<circle cx="109.42" cy="331.4" r="0.95" fill="#333"/>
<circle cx="112.38" cy="331.4" r="0.95" fill="#333"/>
<path d="M96.7 338.4V321.3H104.2V324.9" fill="none" stroke="#555" stroke-width="1"/>
<circle cx="96.03" cy="318.2" r="0.95" fill="#333"/>
<circle cx="98.98" cy="318.2" r="0.95" fill="#333"/>
<circle cx="101.92" cy="318.2" r="0.95" fill="#333"/>
<circle cx="104.88" cy="318.2" r="0.95" fill="#333"/>
<path d="M81.7 324.9V309H96.7V312.2" fill="none" stroke="#555" stroke-width="1"/>
<circle cx="84.78" cy="305.9" r="0.95" fill="#333"/>
<circle cx="87.73" cy="305.9" r="0.95" fill="#333"/>
<circle cx="90.67" cy="305.9" r="0.95" fill="#333"/>
<circle cx="93.62" cy="305.9" r="0.95" fill="#333"/>
<path d="M96.7 300.1V296.1H111.7V324.9" fill="none" stroke="#555" stroke-width="1"/>
<circle cx="99.78" cy="293" r="0.95" fill="#333"/>
<circle cx="102.73" cy="293" r="0.95" fill="#333"/>
<circle cx="105.67" cy="293" r="0.95" fill="#333"/>
<circle cx="108.62" cy="293" r="0.95" fill="#333"/>
<path d="M125.3 372V334.5H132.8V388" fill="none" stroke="#555" stroke-width="1"/>
<circle cx="124.63" cy="331.4" r="0.95" fill="#333"/>
<circle cx="127.58" cy="331.4" r="0.95" fill="#333"/>
<circle cx="130.53" cy="331.4" r="0.95" fill="#333"/>
<circle cx="133.48" cy="331.4" r="0.95" fill="#333"/>
<path d="M140.3 359V334.5H155.3V387" fill="none" stroke="#555" stroke-width="1"/>
<circle cx="143.38" cy="331.4" r="0.95" fill="#333"/>
<circle cx="146.33" cy="331.4" r="0.95" fill="#333"/>
<circle cx="149.28" cy="331.4" r="0.95" fill="#333"/>
<circle cx="152.23" cy="331.4" r="0.95" fill="#333"/>
<path d="M140.3 324.8V321.4H147.8V324.8" fill="none" stroke="#555" stroke-width="1"/>
<circle cx="139.62" cy="318.3" r="0.95" fill="#333"/>
<circle cx="142.58" cy="318.3" r="0.95" fill="#333"/>
<circle cx="145.53" cy="318.3" r="0.95" fill="#333"/>
<circle cx="148.48" cy="318.3" r="0.95" fill="#333"/>
<path d="M125.3 325V308.6H140.3V312.9" fill="none" stroke="#555" stroke-width="1"/>
<circle cx="131.33" cy="305.5" r="0.95" fill="#333"/>
<circle cx="134.28" cy="305.5" r="0.95" fill="#333"/>
<path d="M168.9 372.3V334.5H176.4V386.4" fill="none" stroke="#555" stroke-width="1"/>
<circle cx="168.22" cy="331.4" r="0.95" fill="#333"/>
<circle cx="171.18" cy="331.4" r="0.95" fill="#333"/>
<circle cx="174.12" cy="331.4" r="0.95" fill="#333"/>
<circle cx="177.08" cy="331.4" r="0.95" fill="#333"/>
<path d="M191.4 381V334.5H198.9V387.1" fill="none" stroke="#555" stroke-width="1"/>
<circle cx="195.15" cy="331.4" r="0.95" fill="#333"/>
<path d="M183.9 367.6V321.4H191.4V325" fill="none" stroke="#555" stroke-width="1"/>
<circle cx="183.22" cy="318.3" r="0.95" fill="#333"/>
<circle cx="186.18" cy="318.3" r="0.95" fill="#333"/>
<circle cx="189.12" cy="318.3" r="0.95" fill="#333"/>
<circle cx="192.08" cy="318.3" r="0.95" fill="#333"/>
<path d="M183.9 311.9V309H198.9V325" fill="none" stroke="#555" stroke-width="1"/>
<circle cx="186.97" cy="305.9" r="0.95" fill="#333"/>
<circle cx="189.93" cy="305.9" r="0.95" fill="#333"/>
<circle cx="192.88" cy="305.9" r="0.95" fill="#333"/>
<circle cx="195.83" cy="305.9" r="0.95" fill="#333"/>
<path d="M212.5 372.3V334.5H220V387.8" fill="none" stroke="#555" stroke-width="1"/>
<circle cx="211.82" cy="331.4" r="0.95" fill="#333"/>
<circle cx="214.78" cy="331.4" r="0.95" fill="#333"/>
<circle cx="217.72" cy="331.4" r="0.95" fill="#333"/>
<circle cx="220.68" cy="331.4" r="0.95" fill="#333"/>
<path d="M227.5 366.2V334.5H242.5V389.1" fill="none" stroke="#555" stroke-width="1"/>
<circle cx="230.57" cy="331.4" r="0.95" fill="#333"/>
<circle cx="233.53" cy="331.4" r="0.95" fill="#333"/>
<circle cx="236.47" cy="331.4" r="0.95" fill="#333"/>
<circle cx="239.43" cy="331.4" r="0.95" fill="#333"/>
<path d="M227.5 325.6V322.3H235V325.6" fill="none" stroke="#555" stroke-width="1"/>
<circle cx="226.82" cy="319.2" r="0.95" fill="#333"/>
<circle cx="229.78" cy="319.2" r="0.95" fill="#333"/>
<circle cx="232.72" cy="319.2" r="0.95" fill="#333"/>
<circle cx="235.68" cy="319.2" r="0.95" fill="#333"/>
<path d="M256.1 369.9V321.1H263.6V385.8" fill="none" stroke="#555" stroke-width="1"/>
<circle cx="255.43" cy="318" r="0.95" fill="#333"/>
<circle cx="258.38" cy="318" r="0.95" fill="#333"/>
<circle cx="261.33" cy="318" r="0.95" fill="#333"/>
<circle cx="264.28" cy="318" r="0.95" fill="#333"/>
<path d="M271.1 369V334.5H278.6V381.7" fill="none" stroke="#555" stroke-width="1"/>
<circle cx="270.43" cy="331.4" r="0.95" fill="#333"/>
<circle cx="273.38" cy="331.4" r="0.95" fill="#333"/>
<circle cx="276.33" cy="331.4" r="0.95" fill="#333"/>
<circle cx="279.28" cy="331.4" r="0.95" fill="#333"/>
<rect x="100.2" y="415.8" width="6.6" height="6.2" fill="#174581"/>
<text x="110.4" y="421.3" font-size="7.6" stroke="#333" stroke-width="0.12" fill="#333" textLength="59.6" lengthAdjust="spacingAndGlyphs">Sensitive Untreated</text>
<rect x="100.2" y="427.3" width="6.6" height="6.2" fill="#c8102e"/>
<text x="110.4" y="432.8" font-size="7.6" stroke="#333" stroke-width="0.12" fill="#333" textLength="71.6" lengthAdjust="spacingAndGlyphs">Sensitive Original IC50</text>
<rect x="100.2" y="438.8" width="6.6" height="6.2" fill="#34b233"/>
<text x="110.4" y="444.3" font-size="7.6" stroke="#333" stroke-width="0.12" fill="#333" textLength="60.4" lengthAdjust="spacingAndGlyphs">Resistant Untreated</text>
<rect x="185" y="415.6" width="6.6" height="6.2" fill="#521a6e"/>
<text x="195.2" y="421.1" font-size="7.6" stroke="#333" stroke-width="0.12" fill="#333" textLength="73" lengthAdjust="spacingAndGlyphs">Resistant Original IC50</text>
<rect x="185" y="427.1" width="6.6" height="6.2" fill="#f39a1c"/>
<text x="195.2" y="432.6" font-size="7.6" stroke="#333" stroke-width="0.12" fill="#333" textLength="62.5" lengthAdjust="spacingAndGlyphs">Resistant New IC50</text>
<text x="410.7" y="286" font-size="9" stroke="#222" stroke-width="0.12" text-anchor="middle">ADMA</text>
<line x1="342" y1="291" x2="342" y2="351.3" stroke="#222" stroke-width="1"/>
<line x1="339" y1="350.8" x2="342" y2="350.8" stroke="#222" stroke-width="1"/>
<text x="336.1" y="353.3" font-size="7.2" stroke="#333" stroke-width="0.12" text-anchor="end" fill="#333">0.0</text>
<line x1="339" y1="336.5" x2="342" y2="336.5" stroke="#222" stroke-width="1"/>
<text x="336.1" y="339" font-size="7.2" stroke="#333" stroke-width="0.12" text-anchor="end" fill="#333">0.5</text>
<line x1="339" y1="322.2" x2="342" y2="322.2" stroke="#222" stroke-width="1"/>
<text x="336.1" y="324.7" font-size="7.2" stroke="#333" stroke-width="0.12" text-anchor="end" fill="#333">1.0</text>
<line x1="339" y1="307.9" x2="342" y2="307.9" stroke="#222" stroke-width="1"/>
<text x="336.1" y="310.4" font-size="7.2" stroke="#333" stroke-width="0.12" text-anchor="end" fill="#333">1.5</text>
<line x1="339" y1="293.6" x2="342" y2="293.6" stroke="#222" stroke-width="1"/>
<text x="336.1" y="296.1" font-size="7.2" stroke="#333" stroke-width="0.12" text-anchor="end" fill="#333">2.0</text>
<line x1="341.5" y1="350.8" x2="479" y2="350.8" stroke="#222" stroke-width="1"/>
<text x="309" y="321.5" font-size="8.8" text-anchor="middle" font-weight="bold" fill="#333" textLength="30.2" lengthAdjust="spacingAndGlyphs" transform="rotate(-90 309 321.5)">Normalized</text>
<text x="319.6" y="321.2" font-size="8.8" text-anchor="middle" font-weight="bold" fill="#333" textLength="48.6" lengthAdjust="spacingAndGlyphs" transform="rotate(-90 319.6 321.2)">protein expression</text>
<line x1="355.4" y1="350.8" x2="355.4" y2="353.3" stroke="#222" stroke-width="1"/>
<text x="355.4" y="362.9" font-size="7.9" stroke="#222" stroke-width="0.12" text-anchor="middle" textLength="27.6" lengthAdjust="spacingAndGlyphs">CCMCL</text>
<rect x="344.1" y="322.2" width="3.2" height="28.6" fill="#174581"/>
<line x1="350.55" y1="325.5" x2="350.55" y2="327.9" stroke="#b83a58" stroke-width="0.9"/>
<line x1="349.35" y1="325.5" x2="351.75" y2="325.5" stroke="#b83a58" stroke-width="0.9"/>
<rect x="348.95" y="327.9" width="3.2" height="22.9" fill="#c8102e"/>
<line x1="355.4" y1="319" x2="355.4" y2="320.6" stroke="#5fa05f" stroke-width="0.9"/>
<line x1="354.2" y1="319" x2="356.6" y2="319" stroke="#5fa05f" stroke-width="0.9"/>
<rect x="353.8" y="320.6" width="3.2" height="30.2" fill="#34b233"/>
<line x1="360.25" y1="323.6" x2="360.25" y2="325.5" stroke="#5a3070" stroke-width="0.9"/>
<line x1="359.05" y1="323.6" x2="361.45" y2="323.6" stroke="#5a3070" stroke-width="0.9"/>
<rect x="358.65" y="325.5" width="3.2" height="25.3" fill="#521a6e"/>
<line x1="365.1" y1="318.2" x2="365.1" y2="320.6" stroke="#f0b468" stroke-width="0.9"/>
<line x1="363.9" y1="318.2" x2="366.3" y2="318.2" stroke="#f0b468" stroke-width="0.9"/>
<rect x="363.5" y="320.6" width="3.2" height="30.2" fill="#f39a1c"/>
<line x1="383.05" y1="350.8" x2="383.05" y2="353.3" stroke="#222" stroke-width="1"/>
<text x="382.2" y="362.9" font-size="7.9" stroke="#222" stroke-width="0.12" text-anchor="middle" textLength="21.6" lengthAdjust="spacingAndGlyphs">REC-1</text>
<rect x="371.75" y="322.2" width="3.2" height="28.6" fill="#174581"/>
<line x1="378.2" y1="315.5" x2="378.2" y2="317.9" stroke="#b83a58" stroke-width="0.9"/>
<line x1="377" y1="315.5" x2="379.4" y2="315.5" stroke="#b83a58" stroke-width="0.9"/>
<rect x="376.6" y="317.9" width="3.2" height="32.9" fill="#c8102e"/>
<line x1="383.05" y1="323" x2="383.05" y2="324.8" stroke="#5fa05f" stroke-width="0.9"/>
<line x1="381.85" y1="323" x2="384.25" y2="323" stroke="#5fa05f" stroke-width="0.9"/>
<rect x="381.45" y="324.8" width="3.2" height="26" fill="#34b233"/>
<line x1="387.9" y1="320.6" x2="387.9" y2="327.9" stroke="#5a3070" stroke-width="0.9"/>
<line x1="386.7" y1="320.6" x2="389.1" y2="320.6" stroke="#5a3070" stroke-width="0.9"/>
<rect x="386.3" y="327.9" width="3.2" height="22.9" fill="#521a6e"/>
<line x1="392.75" y1="310.3" x2="392.75" y2="318.8" stroke="#f0b468" stroke-width="0.9"/>
<line x1="391.55" y1="310.3" x2="393.95" y2="310.3" stroke="#f0b468" stroke-width="0.9"/>
<rect x="391.15" y="318.8" width="3.2" height="32" fill="#f39a1c"/>
<line x1="410.7" y1="350.8" x2="410.7" y2="353.3" stroke="#222" stroke-width="1"/>
<text x="410.8" y="362.9" font-size="7.9" stroke="#222" stroke-width="0.12" text-anchor="middle" textLength="18.6" lengthAdjust="spacingAndGlyphs">SP53</text>
<rect x="399.4" y="322.4" width="3.2" height="28.4" fill="#174581"/>
<line x1="405.85" y1="314.3" x2="405.85" y2="318.8" stroke="#b83a58" stroke-width="0.9"/>
<line x1="404.65" y1="314.3" x2="407.05" y2="314.3" stroke="#b83a58" stroke-width="0.9"/>
<rect x="404.25" y="318.8" width="3.2" height="32" fill="#c8102e"/>
<line x1="410.7" y1="315.5" x2="410.7" y2="320" stroke="#5fa05f" stroke-width="0.9"/>
<line x1="409.5" y1="315.5" x2="411.9" y2="315.5" stroke="#5fa05f" stroke-width="0.9"/>
<rect x="409.1" y="320" width="3.2" height="30.8" fill="#34b233"/>
<line x1="415.55" y1="317.6" x2="415.55" y2="321.8" stroke="#5a3070" stroke-width="0.9"/>
<line x1="414.35" y1="317.6" x2="416.75" y2="317.6" stroke="#5a3070" stroke-width="0.9"/>
<rect x="413.95" y="321.8" width="3.2" height="29" fill="#521a6e"/>
<line x1="420.4" y1="314.5" x2="420.4" y2="319.4" stroke="#f0b468" stroke-width="0.9"/>
<line x1="419.2" y1="314.5" x2="421.6" y2="314.5" stroke="#f0b468" stroke-width="0.9"/>
<rect x="418.8" y="319.4" width="3.2" height="31.4" fill="#f39a1c"/>
<line x1="438.35" y1="350.8" x2="438.35" y2="353.3" stroke="#222" stroke-width="1"/>
<text x="438.1" y="362.9" font-size="7.9" stroke="#222" stroke-width="0.12" text-anchor="middle" textLength="20" lengthAdjust="spacingAndGlyphs">Z-138</text>
<rect x="427.05" y="322.4" width="3.2" height="28.4" fill="#174581"/>
<line x1="433.5" y1="318.5" x2="433.5" y2="320" stroke="#b83a58" stroke-width="0.9"/>
<line x1="432.3" y1="318.5" x2="434.7" y2="318.5" stroke="#b83a58" stroke-width="0.9"/>
<rect x="431.9" y="320" width="3.2" height="30.8" fill="#c8102e"/>
<line x1="438.35" y1="313.6" x2="438.35" y2="317" stroke="#5fa05f" stroke-width="0.9"/>
<line x1="437.15" y1="313.6" x2="439.55" y2="313.6" stroke="#5fa05f" stroke-width="0.9"/>
<rect x="436.75" y="317" width="3.2" height="33.8" fill="#34b233"/>
<line x1="443.2" y1="310.9" x2="443.2" y2="317" stroke="#5a3070" stroke-width="0.9"/>
<line x1="442" y1="310.9" x2="444.4" y2="310.9" stroke="#5a3070" stroke-width="0.9"/>
<rect x="441.6" y="317" width="3.2" height="33.8" fill="#521a6e"/>
<line x1="448.05" y1="309" x2="448.05" y2="315.8" stroke="#f0b468" stroke-width="0.9"/>
<line x1="446.85" y1="309" x2="449.25" y2="309" stroke="#f0b468" stroke-width="0.9"/>
<rect x="446.45" y="315.8" width="3.2" height="35" fill="#f39a1c"/>
<line x1="466" y1="350.8" x2="466" y2="353.3" stroke="#222" stroke-width="1"/>
<text x="466.1" y="362.9" font-size="7.9" stroke="#222" stroke-width="0.12" text-anchor="middle" textLength="14" lengthAdjust="spacingAndGlyphs">PDX</text>
<line x1="456.3" y1="315.5" x2="456.3" y2="319.1" stroke="#4a6a9a" stroke-width="0.9"/>
<line x1="455.1" y1="315.5" x2="457.5" y2="315.5" stroke="#4a6a9a" stroke-width="0.9"/>
<rect x="454.7" y="319.1" width="3.2" height="31.7" fill="#174581"/>
<line x1="461.15" y1="308.2" x2="461.15" y2="314.8" stroke="#b83a58" stroke-width="0.9"/>
<line x1="459.95" y1="308.2" x2="462.35" y2="308.2" stroke="#b83a58" stroke-width="0.9"/>
<rect x="459.55" y="314.8" width="3.2" height="36" fill="#c8102e"/>
<line x1="466" y1="314.2" x2="466" y2="316.9" stroke="#5fa05f" stroke-width="0.9"/>
<line x1="464.8" y1="314.2" x2="467.2" y2="314.2" stroke="#5fa05f" stroke-width="0.9"/>
<rect x="464.4" y="316.9" width="3.2" height="33.9" fill="#34b233"/>
<line x1="470.85" y1="311.2" x2="470.85" y2="314.2" stroke="#5a3070" stroke-width="0.9"/>
<line x1="469.65" y1="311.2" x2="472.05" y2="311.2" stroke="#5a3070" stroke-width="0.9"/>
<rect x="469.25" y="314.2" width="3.2" height="36.6" fill="#521a6e"/>
<text x="393.2" y="376.1" font-size="9.4" stroke="#222" stroke-width="0.35" textLength="12.4" lengthAdjust="spacingAndGlyphs">MCL</text>
<text x="408.1" y="376.1" font-size="9.4" stroke="#222" stroke-width="0.35" textLength="19.7" lengthAdjust="spacingAndGlyphs">models</text>
<text x="410.85" y="395" font-size="9" stroke="#222" stroke-width="0.12" text-anchor="middle">PRMT5</text>
<line x1="342" y1="401" x2="342" y2="461.3" stroke="#222" stroke-width="1"/>
<line x1="339" y1="460.8" x2="342" y2="460.8" stroke="#222" stroke-width="1"/>
<text x="336.1" y="463.3" font-size="7.2" stroke="#333" stroke-width="0.12" text-anchor="end" fill="#333">0.0</text>
<line x1="339" y1="446.5" x2="342" y2="446.5" stroke="#222" stroke-width="1"/>
<text x="336.1" y="449" font-size="7.2" stroke="#333" stroke-width="0.12" text-anchor="end" fill="#333">0.5</text>
<line x1="339" y1="432.2" x2="342" y2="432.2" stroke="#222" stroke-width="1"/>
<text x="336.1" y="434.7" font-size="7.2" stroke="#333" stroke-width="0.12" text-anchor="end" fill="#333">1.0</text>
<line x1="339" y1="417.9" x2="342" y2="417.9" stroke="#222" stroke-width="1"/>
<text x="336.1" y="420.4" font-size="7.2" stroke="#333" stroke-width="0.12" text-anchor="end" fill="#333">1.5</text>
<line x1="339" y1="403.6" x2="342" y2="403.6" stroke="#222" stroke-width="1"/>
<text x="336.1" y="406.1" font-size="7.2" stroke="#333" stroke-width="0.12" text-anchor="end" fill="#333">2.0</text>
<line x1="341.5" y1="460.8" x2="479" y2="460.8" stroke="#222" stroke-width="1"/>
<text x="309" y="431.5" font-size="8.8" text-anchor="middle" font-weight="bold" fill="#333" textLength="30.2" lengthAdjust="spacingAndGlyphs" transform="rotate(-90 309 431.5)">Normalized</text>
<text x="319.6" y="431.2" font-size="8.8" text-anchor="middle" font-weight="bold" fill="#333" textLength="48.6" lengthAdjust="spacingAndGlyphs" transform="rotate(-90 319.6 431.2)">protein expression</text>
<line x1="355.4" y1="460.8" x2="355.4" y2="463.3" stroke="#222" stroke-width="1"/>
<text x="355.4" y="472.9" font-size="7.9" stroke="#222" stroke-width="0.12" text-anchor="middle" textLength="27.6" lengthAdjust="spacingAndGlyphs">CCMCL</text>
<rect x="344.1" y="432.2" width="3.2" height="28.6" fill="#174581"/>
<line x1="350.55" y1="427.6" x2="350.55" y2="434" stroke="#b83a58" stroke-width="0.9"/>
<line x1="349.35" y1="427.6" x2="351.75" y2="427.6" stroke="#b83a58" stroke-width="0.9"/>
<rect x="348.95" y="434" width="3.2" height="26.8" fill="#c8102e"/>
<line x1="355.4" y1="418.1" x2="355.4" y2="428.3" stroke="#5fa05f" stroke-width="0.9"/>
<line x1="354.2" y1="418.1" x2="356.6" y2="418.1" stroke="#5fa05f" stroke-width="0.9"/>
<rect x="353.8" y="428.3" width="3.2" height="32.5" fill="#34b233"/>
<line x1="360.25" y1="425.2" x2="360.25" y2="430.8" stroke="#5a3070" stroke-width="0.9"/>
<line x1="359.05" y1="425.2" x2="361.45" y2="425.2" stroke="#5a3070" stroke-width="0.9"/>
<rect x="358.65" y="430.8" width="3.2" height="30" fill="#521a6e"/>
<line x1="365.1" y1="425.9" x2="365.1" y2="430.8" stroke="#f0b468" stroke-width="0.9"/>
<line x1="363.9" y1="425.9" x2="366.3" y2="425.9" stroke="#f0b468" stroke-width="0.9"/>
<rect x="363.5" y="430.8" width="3.2" height="30" fill="#f39a1c"/>
<line x1="383.05" y1="460.8" x2="383.05" y2="463.3" stroke="#222" stroke-width="1"/>
<text x="382.2" y="472.9" font-size="7.9" stroke="#222" stroke-width="0.12" text-anchor="middle" textLength="21.6" lengthAdjust="spacingAndGlyphs">REC-1</text>
<rect x="371.75" y="432.2" width="3.2" height="28.6" fill="#174581"/>
<line x1="378.2" y1="412.4" x2="378.2" y2="421.5" stroke="#b83a58" stroke-width="0.9"/>
<line x1="377" y1="412.4" x2="379.4" y2="412.4" stroke="#b83a58" stroke-width="0.9"/>
<rect x="376.6" y="421.5" width="3.2" height="39.3" fill="#c8102e"/>
<line x1="383.05" y1="424" x2="383.05" y2="426.6" stroke="#5fa05f" stroke-width="0.9"/>
<line x1="381.85" y1="424" x2="384.25" y2="424" stroke="#5fa05f" stroke-width="0.9"/>
<rect x="381.45" y="426.6" width="3.2" height="34.2" fill="#34b233"/>
<line x1="387.9" y1="418.1" x2="387.9" y2="421.9" stroke="#5a3070" stroke-width="0.9"/>
<line x1="386.7" y1="418.1" x2="389.1" y2="418.1" stroke="#5a3070" stroke-width="0.9"/>
<rect x="386.3" y="421.9" width="3.2" height="38.9" fill="#521a6e"/>
<line x1="392.75" y1="405" x2="392.75" y2="409.2" stroke="#f0b468" stroke-width="0.9"/>
<line x1="391.55" y1="405" x2="393.95" y2="405" stroke="#f0b468" stroke-width="0.9"/>
<rect x="391.15" y="409.2" width="3.2" height="51.6" fill="#f39a1c"/>
<line x1="410.7" y1="460.8" x2="410.7" y2="463.3" stroke="#222" stroke-width="1"/>
<text x="410.8" y="472.9" font-size="7.9" stroke="#222" stroke-width="0.12" text-anchor="middle" textLength="18.6" lengthAdjust="spacingAndGlyphs">SP53</text>
<rect x="399.4" y="432.2" width="3.2" height="28.6" fill="#174581"/>
<line x1="405.85" y1="425.2" x2="405.85" y2="430.1" stroke="#b83a58" stroke-width="0.9"/>
<line x1="404.65" y1="425.2" x2="407.05" y2="425.2" stroke="#b83a58" stroke-width="0.9"/>
<rect x="404.25" y="430.1" width="3.2" height="30.7" fill="#c8102e"/>
<line x1="410.7" y1="424.8" x2="410.7" y2="429.4" stroke="#5fa05f" stroke-width="0.9"/>
<line x1="409.5" y1="424.8" x2="411.9" y2="424.8" stroke="#5fa05f" stroke-width="0.9"/>
<rect x="409.1" y="429.4" width="3.2" height="31.4" fill="#34b233"/>
<line x1="415.55" y1="425.7" x2="415.55" y2="434" stroke="#5a3070" stroke-width="0.9"/>
<line x1="414.35" y1="425.7" x2="416.75" y2="425.7" stroke="#5a3070" stroke-width="0.9"/>
<rect x="413.95" y="434" width="3.2" height="26.8" fill="#521a6e"/>
<line x1="420.4" y1="428" x2="420.4" y2="431.8" stroke="#f0b468" stroke-width="0.9"/>
<line x1="419.2" y1="428" x2="421.6" y2="428" stroke="#f0b468" stroke-width="0.9"/>
<rect x="418.8" y="431.8" width="3.2" height="29" fill="#f39a1c"/>
<line x1="438.35" y1="460.8" x2="438.35" y2="463.3" stroke="#222" stroke-width="1"/>
<text x="438.1" y="472.9" font-size="7.9" stroke="#222" stroke-width="0.12" text-anchor="middle" textLength="20" lengthAdjust="spacingAndGlyphs">Z-138</text>
<rect x="427.05" y="432.2" width="3.2" height="28.6" fill="#174581"/>
<line x1="433.5" y1="427.2" x2="433.5" y2="429.7" stroke="#b83a58" stroke-width="0.9"/>
<line x1="432.3" y1="427.2" x2="434.7" y2="427.2" stroke="#b83a58" stroke-width="0.9"/>
<rect x="431.9" y="429.7" width="3.2" height="31.1" fill="#c8102e"/>
<line x1="438.35" y1="427.9" x2="438.35" y2="430.8" stroke="#5fa05f" stroke-width="0.9"/>
<line x1="437.15" y1="427.9" x2="439.55" y2="427.9" stroke="#5fa05f" stroke-width="0.9"/>
<rect x="436.75" y="430.8" width="3.2" height="30" fill="#34b233"/>
<line x1="443.2" y1="425.5" x2="443.2" y2="430" stroke="#5a3070" stroke-width="0.9"/>
<line x1="442" y1="425.5" x2="444.4" y2="425.5" stroke="#5a3070" stroke-width="0.9"/>
<rect x="441.6" y="430" width="3.2" height="30.8" fill="#521a6e"/>
<line x1="448.05" y1="414.9" x2="448.05" y2="427.6" stroke="#f0b468" stroke-width="0.9"/>
<line x1="446.85" y1="414.9" x2="449.25" y2="414.9" stroke="#f0b468" stroke-width="0.9"/>
<rect x="446.45" y="427.6" width="3.2" height="33.2" fill="#f39a1c"/>
<line x1="466" y1="460.8" x2="466" y2="463.3" stroke="#222" stroke-width="1"/>
<text x="466.1" y="472.9" font-size="7.9" stroke="#222" stroke-width="0.12" text-anchor="middle" textLength="14" lengthAdjust="spacingAndGlyphs">PDX</text>
<line x1="456.3" y1="434.2" x2="456.3" y2="437" stroke="#4a6a9a" stroke-width="0.9"/>
<line x1="455.1" y1="434.2" x2="457.5" y2="434.2" stroke="#4a6a9a" stroke-width="0.9"/>
<rect x="454.7" y="437" width="3.2" height="23.8" fill="#174581"/>
<line x1="461.15" y1="431.5" x2="461.15" y2="432.8" stroke="#b83a58" stroke-width="0.9"/>
<line x1="459.95" y1="431.5" x2="462.35" y2="431.5" stroke="#b83a58" stroke-width="0.9"/>
<rect x="459.55" y="432.8" width="3.2" height="28" fill="#c8102e"/>
<line x1="466" y1="439.5" x2="466" y2="441" stroke="#5fa05f" stroke-width="0.9"/>
<line x1="464.8" y1="439.5" x2="467.2" y2="439.5" stroke="#5fa05f" stroke-width="0.9"/>
<rect x="464.4" y="441" width="3.2" height="19.8" fill="#34b233"/>
<line x1="470.85" y1="433.2" x2="470.85" y2="437.9" stroke="#5a3070" stroke-width="0.9"/>
<line x1="469.65" y1="433.2" x2="472.05" y2="433.2" stroke="#5a3070" stroke-width="0.9"/>
<rect x="469.25" y="437.9" width="3.2" height="22.9" fill="#521a6e"/>
<text x="393.2" y="486.1" font-size="9.4" stroke="#222" stroke-width="0.35" textLength="12.4" lengthAdjust="spacingAndGlyphs">MCL</text>
<text x="408.1" y="486.1" font-size="9.4" stroke="#222" stroke-width="0.35" textLength="19.7" lengthAdjust="spacingAndGlyphs">models</text>
</svg></body></html>
